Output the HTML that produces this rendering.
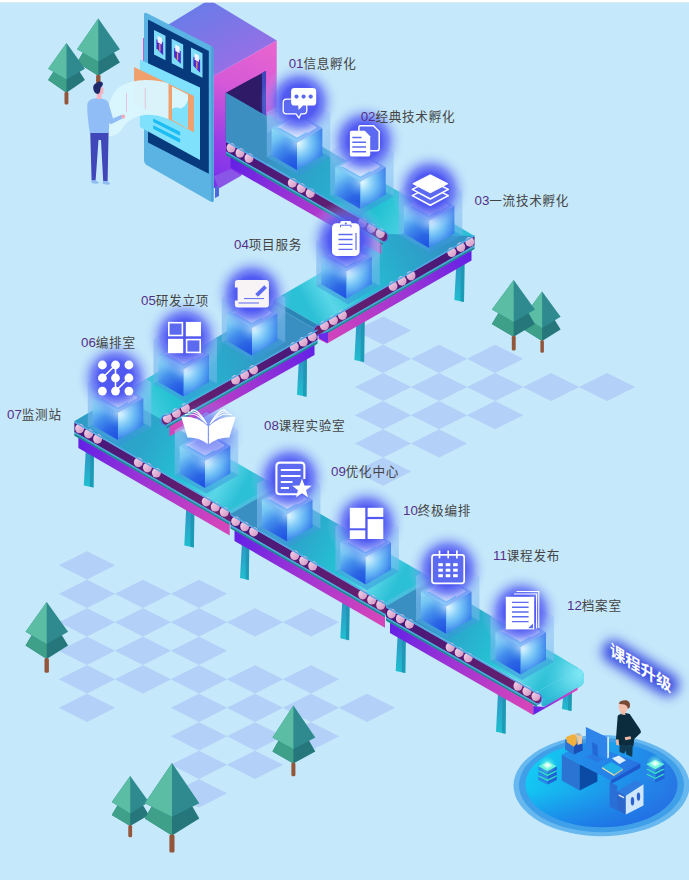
<!DOCTYPE html>
<html><head><meta charset="utf-8"><title>课程升级</title>
<style>
html,body{margin:0;padding:0;background:#c5e8fa;}
svg{display:block}
.lb{font-family:"Liberation Sans","Noto Sans CJK SC",sans-serif;font-size:13.3px;fill:#444}
.cj{font-size:12.6px;letter-spacing:0.7px}
.ttl{font-family:"Liberation Sans","Noto Sans CJK SC",sans-serif;font-size:16.5px;font-weight:bold;fill:#fdfdff}
</style></head><body>
<svg width="689" height="880" viewBox="0 0 689 880">
<defs>
<linearGradient id="g1" gradientUnits="userSpaceOnUse" x1="200.0" y1="5.0" x2="235.0" y2="75.0"><stop offset="0" stop-color="#6b7be8"/><stop offset="1" stop-color="#9a6ee6"/></linearGradient>
<linearGradient id="g2" gradientUnits="userSpaceOnUse" x1="270.0" y1="45.0" x2="215.0" y2="190.0"><stop offset="0" stop-color="#e765cf"/><stop offset="0.35" stop-color="#d458d8"/><stop offset="0.7" stop-color="#9a3de6"/><stop offset="1" stop-color="#7430ea"/></linearGradient>
<linearGradient id="g3" gradientUnits="userSpaceOnUse" x1="455.4" y1="262.0" x2="455.4" y2="302.0"><stop offset="0" stop-color="#2f93c4"/><stop offset="1" stop-color="#20bfd0"/></linearGradient>
<linearGradient id="g4" gradientUnits="userSpaceOnUse" x1="355.4" y1="322.0" x2="355.4" y2="362.0"><stop offset="0" stop-color="#2f93c4"/><stop offset="1" stop-color="#20bfd0"/></linearGradient>
<linearGradient id="g5" gradientUnits="userSpaceOnUse" x1="298.0" y1="357.0" x2="298.0" y2="396.7"><stop offset="0" stop-color="#2f93c4"/><stop offset="1" stop-color="#20bfd0"/></linearGradient>
<linearGradient id="g6" gradientUnits="userSpaceOnUse" x1="84.8" y1="450.0" x2="84.8" y2="487.5"><stop offset="0" stop-color="#2f93c4"/><stop offset="1" stop-color="#20bfd0"/></linearGradient>
<linearGradient id="g7" gradientUnits="userSpaceOnUse" x1="185.3" y1="506.0" x2="185.3" y2="547.6"><stop offset="0" stop-color="#2f93c4"/><stop offset="1" stop-color="#20bfd0"/></linearGradient>
<linearGradient id="g8" gradientUnits="userSpaceOnUse" x1="241.0" y1="542.0" x2="241.0" y2="580.0"><stop offset="0" stop-color="#2f93c4"/><stop offset="1" stop-color="#20bfd0"/></linearGradient>
<linearGradient id="g9" gradientUnits="userSpaceOnUse" x1="341.3" y1="600.0" x2="341.3" y2="640.3"><stop offset="0" stop-color="#2f93c4"/><stop offset="1" stop-color="#20bfd0"/></linearGradient>
<linearGradient id="g10" gradientUnits="userSpaceOnUse" x1="396.7" y1="634.0" x2="396.7" y2="673.0"><stop offset="0" stop-color="#2f93c4"/><stop offset="1" stop-color="#20bfd0"/></linearGradient>
<linearGradient id="g11" gradientUnits="userSpaceOnUse" x1="497.0" y1="692.0" x2="497.0" y2="733.7"><stop offset="0" stop-color="#2f93c4"/><stop offset="1" stop-color="#20bfd0"/></linearGradient>
<linearGradient id="g12" gradientUnits="userSpaceOnUse" x1="563.0" y1="686.0" x2="563.0" y2="711.0"><stop offset="0" stop-color="#2f93c4"/><stop offset="1" stop-color="#20bfd0"/></linearGradient>
<linearGradient id="g13" gradientUnits="userSpaceOnUse" x1="226.0" y1="140.0" x2="433.0" y2="260.0"><stop offset="0" stop-color="#3a8fc2"/><stop offset="0.16" stop-color="#3a8fc2"/><stop offset="0.4" stop-color="#2ba6cb"/><stop offset="0.7" stop-color="#24c2d3"/><stop offset="0.88" stop-color="#5ad6e8"/><stop offset="1" stop-color="#2cc0d6"/></linearGradient>
<linearGradient id="g14" gradientUnits="userSpaceOnUse" x1="474.5" y1="236.0" x2="319.0" y2="325.4"><stop offset="0" stop-color="#3192c6"/><stop offset="0.16" stop-color="#3192c6"/><stop offset="0.4" stop-color="#2ba6cb"/><stop offset="0.7" stop-color="#24c2d3"/><stop offset="0.88" stop-color="#5ad6e8"/><stop offset="1" stop-color="#2cc0d6"/></linearGradient>
<linearGradient id="g15" gradientUnits="userSpaceOnUse" x1="226.0" y1="140.6" x2="383.0" y2="230.6"><stop offset="0" stop-color="#43177c"/><stop offset="1" stop-color="#6a206c"/></linearGradient>
<linearGradient id="g16" gradientUnits="userSpaceOnUse" x1="226.2" y1="143.0" x2="235.8" y2="152.6"><stop offset="0" stop-color="#f6d6ea"/><stop offset="1" stop-color="#cf92c2"/></linearGradient>
<linearGradient id="g17" gradientUnits="userSpaceOnUse" x1="235.2" y1="148.1" x2="244.8" y2="157.7"><stop offset="0" stop-color="#f6d6ea"/><stop offset="1" stop-color="#cf92c2"/></linearGradient>
<linearGradient id="g18" gradientUnits="userSpaceOnUse" x1="244.2" y1="153.3" x2="253.8" y2="162.9"><stop offset="0" stop-color="#f6d6ea"/><stop offset="1" stop-color="#cf92c2"/></linearGradient>
<linearGradient id="g19" gradientUnits="userSpaceOnUse" x1="287.5" y1="178.1" x2="297.1" y2="187.7"><stop offset="0" stop-color="#f6d6ea"/><stop offset="1" stop-color="#cf92c2"/></linearGradient>
<linearGradient id="g20" gradientUnits="userSpaceOnUse" x1="296.5" y1="183.3" x2="306.1" y2="192.9"><stop offset="0" stop-color="#f6d6ea"/><stop offset="1" stop-color="#cf92c2"/></linearGradient>
<linearGradient id="g21" gradientUnits="userSpaceOnUse" x1="305.5" y1="188.4" x2="315.1" y2="198.0"><stop offset="0" stop-color="#f6d6ea"/><stop offset="1" stop-color="#cf92c2"/></linearGradient>
<linearGradient id="g22" gradientUnits="userSpaceOnUse" x1="357.5" y1="218.2" x2="367.1" y2="227.8"><stop offset="0" stop-color="#f6d6ea"/><stop offset="1" stop-color="#cf92c2"/></linearGradient>
<linearGradient id="g23" gradientUnits="userSpaceOnUse" x1="366.5" y1="223.4" x2="376.1" y2="233.0"><stop offset="0" stop-color="#f6d6ea"/><stop offset="1" stop-color="#cf92c2"/></linearGradient>
<linearGradient id="g24" gradientUnits="userSpaceOnUse" x1="375.5" y1="228.6" x2="385.1" y2="238.2"><stop offset="0" stop-color="#f6d6ea"/><stop offset="1" stop-color="#cf92c2"/></linearGradient>
<linearGradient id="g25" gradientUnits="userSpaceOnUse" x1="230.5" y1="143.2" x2="381.0" y2="229.5"><stop offset="0" stop-color="#5b1ee8"/><stop offset="0.45" stop-color="#9a32d6"/><stop offset="1" stop-color="#d444bb"/></linearGradient>
<linearGradient id="g26" gradientUnits="userSpaceOnUse" x1="266.8" y1="112.3" x2="266.8" y2="175.6"><stop offset="0" stop-color="#8fc8f8"/><stop offset="1" stop-color="#3a96e0"/></linearGradient>
<radialGradient id="g27" gradientUnits="userSpaceOnUse" cx="296.0" cy="171.1" r="47.0"><stop offset="0" stop-color="#1444e0"/><stop offset="0.32" stop-color="#2560e4"/><stop offset="0.56" stop-color="#3f8aec"/><stop offset="0.8" stop-color="#70c4f4"/><stop offset="1" stop-color="#8cdaf6"/></radialGradient>
<radialGradient id="g28" gradientUnits="userSpaceOnUse" cx="298.0" cy="143.5" r="40.0"><stop offset="0" stop-color="#d0f0ff"/><stop offset="0.16" stop-color="#a8e0fc"/><stop offset="0.38" stop-color="#6cbcf6"/><stop offset="0.62" stop-color="#3d86ec"/><stop offset="0.85" stop-color="#2058e2"/><stop offset="1" stop-color="#1c4ee0"/></radialGradient>
<radialGradient id="g29" gradientUnits="userSpaceOnUse" cx="298.0" cy="143.0" r="15.0"><stop offset="0" stop-color="#ffffff" stop-opacity="0.6"/><stop offset="0.35" stop-color="#d8f4ff" stop-opacity="0.32"/><stop offset="0.7" stop-color="#a0dcfa" stop-opacity="0.12"/><stop offset="1" stop-color="#80c8f8" stop-opacity="0"/></radialGradient>
<linearGradient id="g30" gradientUnits="userSpaceOnUse" x1="271.7" y1="127.9" x2="322.3" y2="127.9"><stop offset="0" stop-color="#7ccaf8"/><stop offset="0.5" stop-color="#9cc8fa"/><stop offset="1" stop-color="#6a9ef4"/></linearGradient>
<linearGradient id="g31" gradientUnits="userSpaceOnUse" x1="297.0" y1="116.9" x2="297.0" y2="137.9"><stop offset="0" stop-color="#a9bcf8"/><stop offset="0.5" stop-color="#d4e2fd"/><stop offset="1" stop-color="#f6faff"/></linearGradient>
<radialGradient id="g32" gradientUnits="userSpaceOnUse" cx="299.5" cy="102.0" r="40.0"><stop offset="0" stop-color="#4e56f0" stop-opacity="1"/><stop offset="0.42" stop-color="#4e56f2" stop-opacity="0.97"/><stop offset="0.6" stop-color="#5e6af4" stop-opacity="0.72"/><stop offset="0.76" stop-color="#7e94f6" stop-opacity="0.36"/><stop offset="0.9" stop-color="#a0baf8" stop-opacity="0.12"/><stop offset="1" stop-color="#b4d0fa" stop-opacity="0"/></radialGradient>
<linearGradient id="g33" gradientUnits="userSpaceOnUse" x1="330.2" y1="151.3" x2="330.2" y2="214.6"><stop offset="0" stop-color="#8fc8f8"/><stop offset="1" stop-color="#3a96e0"/></linearGradient>
<radialGradient id="g34" gradientUnits="userSpaceOnUse" cx="359.4" cy="210.1" r="47.0"><stop offset="0" stop-color="#1444e0"/><stop offset="0.32" stop-color="#2560e4"/><stop offset="0.56" stop-color="#3f8aec"/><stop offset="0.8" stop-color="#70c4f4"/><stop offset="1" stop-color="#8cdaf6"/></radialGradient>
<radialGradient id="g35" gradientUnits="userSpaceOnUse" cx="361.4" cy="182.5" r="40.0"><stop offset="0" stop-color="#d0f0ff"/><stop offset="0.16" stop-color="#a8e0fc"/><stop offset="0.38" stop-color="#6cbcf6"/><stop offset="0.62" stop-color="#3d86ec"/><stop offset="0.85" stop-color="#2058e2"/><stop offset="1" stop-color="#1c4ee0"/></radialGradient>
<radialGradient id="g36" gradientUnits="userSpaceOnUse" cx="361.4" cy="182.0" r="15.0"><stop offset="0" stop-color="#ffffff" stop-opacity="0.6"/><stop offset="0.35" stop-color="#d8f4ff" stop-opacity="0.32"/><stop offset="0.7" stop-color="#a0dcfa" stop-opacity="0.12"/><stop offset="1" stop-color="#80c8f8" stop-opacity="0"/></radialGradient>
<linearGradient id="g37" gradientUnits="userSpaceOnUse" x1="335.1" y1="166.9" x2="385.7" y2="166.9"><stop offset="0" stop-color="#7ccaf8"/><stop offset="0.5" stop-color="#9cc8fa"/><stop offset="1" stop-color="#6a9ef4"/></linearGradient>
<linearGradient id="g38" gradientUnits="userSpaceOnUse" x1="360.4" y1="155.9" x2="360.4" y2="176.9"><stop offset="0" stop-color="#a9bcf8"/><stop offset="0.5" stop-color="#d4e2fd"/><stop offset="1" stop-color="#f6faff"/></linearGradient>
<radialGradient id="g39" gradientUnits="userSpaceOnUse" cx="364.5" cy="141.0" r="40.0"><stop offset="0" stop-color="#4e56f0" stop-opacity="1"/><stop offset="0.42" stop-color="#4e56f2" stop-opacity="0.97"/><stop offset="0.6" stop-color="#5e6af4" stop-opacity="0.72"/><stop offset="0.76" stop-color="#7e94f6" stop-opacity="0.36"/><stop offset="0.9" stop-color="#a0baf8" stop-opacity="0.12"/><stop offset="1" stop-color="#b4d0fa" stop-opacity="0"/></radialGradient>
<linearGradient id="g40" gradientUnits="userSpaceOnUse" x1="317.5" y1="330.4" x2="117.4" y2="443.5"><stop offset="0" stop-color="#3a8fc2"/><stop offset="0.16" stop-color="#3a8fc2"/><stop offset="0.4" stop-color="#2ba6cb"/><stop offset="0.7" stop-color="#24c2d3"/><stop offset="0.88" stop-color="#5ad6e8"/><stop offset="1" stop-color="#2cc0d6"/></linearGradient>
<linearGradient id="g41" gradientUnits="userSpaceOnUse" x1="74.4" y1="421.2" x2="229.7" y2="510.8"><stop offset="0" stop-color="#2f9cc8"/><stop offset="0.16" stop-color="#2f9cc8"/><stop offset="0.4" stop-color="#2ba6cb"/><stop offset="0.7" stop-color="#24c4d4"/><stop offset="0.88" stop-color="#5ad6e8"/><stop offset="1" stop-color="#2cc0d6"/></linearGradient>
<linearGradient id="g42" gradientUnits="userSpaceOnUse" x1="398.9" y1="190.2" x2="398.9" y2="253.5"><stop offset="0" stop-color="#8fc8f8"/><stop offset="1" stop-color="#3a96e0"/></linearGradient>
<radialGradient id="g43" gradientUnits="userSpaceOnUse" cx="428.1" cy="249.0" r="47.0"><stop offset="0" stop-color="#1444e0"/><stop offset="0.32" stop-color="#2560e4"/><stop offset="0.56" stop-color="#3f8aec"/><stop offset="0.8" stop-color="#70c4f4"/><stop offset="1" stop-color="#8cdaf6"/></radialGradient>
<radialGradient id="g44" gradientUnits="userSpaceOnUse" cx="430.1" cy="221.4" r="40.0"><stop offset="0" stop-color="#d0f0ff"/><stop offset="0.16" stop-color="#a8e0fc"/><stop offset="0.38" stop-color="#6cbcf6"/><stop offset="0.62" stop-color="#3d86ec"/><stop offset="0.85" stop-color="#2058e2"/><stop offset="1" stop-color="#1c4ee0"/></radialGradient>
<radialGradient id="g45" gradientUnits="userSpaceOnUse" cx="430.1" cy="220.9" r="15.0"><stop offset="0" stop-color="#ffffff" stop-opacity="0.6"/><stop offset="0.35" stop-color="#d8f4ff" stop-opacity="0.32"/><stop offset="0.7" stop-color="#a0dcfa" stop-opacity="0.12"/><stop offset="1" stop-color="#80c8f8" stop-opacity="0"/></radialGradient>
<linearGradient id="g46" gradientUnits="userSpaceOnUse" x1="403.8" y1="205.8" x2="454.4" y2="205.8"><stop offset="0" stop-color="#7ccaf8"/><stop offset="0.5" stop-color="#9cc8fa"/><stop offset="1" stop-color="#6a9ef4"/></linearGradient>
<linearGradient id="g47" gradientUnits="userSpaceOnUse" x1="429.1" y1="194.8" x2="429.1" y2="215.8"><stop offset="0" stop-color="#a9bcf8"/><stop offset="0.5" stop-color="#d4e2fd"/><stop offset="1" stop-color="#f6faff"/></linearGradient>
<radialGradient id="g48" gradientUnits="userSpaceOnUse" cx="430.3" cy="190.0" r="40.0"><stop offset="0" stop-color="#4e56f0" stop-opacity="1"/><stop offset="0.42" stop-color="#4e56f2" stop-opacity="0.97"/><stop offset="0.6" stop-color="#5e6af4" stop-opacity="0.72"/><stop offset="0.76" stop-color="#7e94f6" stop-opacity="0.36"/><stop offset="0.9" stop-color="#a0baf8" stop-opacity="0.12"/><stop offset="1" stop-color="#b4d0fa" stop-opacity="0"/></radialGradient>
<linearGradient id="g49" gradientUnits="userSpaceOnUse" x1="474.5" y1="235.0" x2="319.0" y2="324.4"><stop offset="0" stop-color="#43177c"/><stop offset="1" stop-color="#6a206c"/></linearGradient>
<linearGradient id="g50" gradientUnits="userSpaceOnUse" x1="465.0" y1="237.1" x2="474.6" y2="246.7"><stop offset="0" stop-color="#f6d6ea"/><stop offset="1" stop-color="#cf92c2"/></linearGradient>
<linearGradient id="g51" gradientUnits="userSpaceOnUse" x1="456.0" y1="242.3" x2="465.6" y2="251.9"><stop offset="0" stop-color="#f6d6ea"/><stop offset="1" stop-color="#cf92c2"/></linearGradient>
<linearGradient id="g52" gradientUnits="userSpaceOnUse" x1="447.0" y1="247.5" x2="456.6" y2="257.1"><stop offset="0" stop-color="#f6d6ea"/><stop offset="1" stop-color="#cf92c2"/></linearGradient>
<linearGradient id="g53" gradientUnits="userSpaceOnUse" x1="406.2" y1="270.9" x2="415.8" y2="280.5"><stop offset="0" stop-color="#f6d6ea"/><stop offset="1" stop-color="#cf92c2"/></linearGradient>
<linearGradient id="g54" gradientUnits="userSpaceOnUse" x1="397.2" y1="276.1" x2="406.8" y2="285.7"><stop offset="0" stop-color="#f6d6ea"/><stop offset="1" stop-color="#cf92c2"/></linearGradient>
<linearGradient id="g55" gradientUnits="userSpaceOnUse" x1="388.2" y1="281.3" x2="397.8" y2="290.9"><stop offset="0" stop-color="#f6d6ea"/><stop offset="1" stop-color="#cf92c2"/></linearGradient>
<linearGradient id="g56" gradientUnits="userSpaceOnUse" x1="337.6" y1="310.3" x2="347.2" y2="319.9"><stop offset="0" stop-color="#f6d6ea"/><stop offset="1" stop-color="#cf92c2"/></linearGradient>
<linearGradient id="g57" gradientUnits="userSpaceOnUse" x1="328.6" y1="315.5" x2="338.2" y2="325.1"><stop offset="0" stop-color="#f6d6ea"/><stop offset="1" stop-color="#cf92c2"/></linearGradient>
<linearGradient id="g58" gradientUnits="userSpaceOnUse" x1="319.6" y1="320.7" x2="329.2" y2="330.3"><stop offset="0" stop-color="#f6d6ea"/><stop offset="1" stop-color="#cf92c2"/></linearGradient>
<linearGradient id="g59" gradientUnits="userSpaceOnUse" x1="471.5" y1="236.7" x2="318.0" y2="325.0"><stop offset="0" stop-color="#5b1ee8"/><stop offset="0.45" stop-color="#9a32d6"/><stop offset="1" stop-color="#d444bb"/></linearGradient>
<linearGradient id="g60" gradientUnits="userSpaceOnUse" x1="317.5" y1="329.6" x2="166.5" y2="414.5"><stop offset="0" stop-color="#43177c"/><stop offset="1" stop-color="#6a206c"/></linearGradient>
<linearGradient id="g61" gradientUnits="userSpaceOnUse" x1="307.5" y1="331.9" x2="317.1" y2="341.5"><stop offset="0" stop-color="#f6d6ea"/><stop offset="1" stop-color="#cf92c2"/></linearGradient>
<linearGradient id="g62" gradientUnits="userSpaceOnUse" x1="298.5" y1="337.0" x2="308.1" y2="346.6"><stop offset="0" stop-color="#f6d6ea"/><stop offset="1" stop-color="#cf92c2"/></linearGradient>
<linearGradient id="g63" gradientUnits="userSpaceOnUse" x1="289.5" y1="342.0" x2="299.1" y2="351.6"><stop offset="0" stop-color="#f6d6ea"/><stop offset="1" stop-color="#cf92c2"/></linearGradient>
<linearGradient id="g64" gradientUnits="userSpaceOnUse" x1="248.8" y1="364.9" x2="258.4" y2="374.5"><stop offset="0" stop-color="#f6d6ea"/><stop offset="1" stop-color="#cf92c2"/></linearGradient>
<linearGradient id="g65" gradientUnits="userSpaceOnUse" x1="239.8" y1="370.0" x2="249.4" y2="379.6"><stop offset="0" stop-color="#f6d6ea"/><stop offset="1" stop-color="#cf92c2"/></linearGradient>
<linearGradient id="g66" gradientUnits="userSpaceOnUse" x1="230.8" y1="375.0" x2="240.4" y2="384.6"><stop offset="0" stop-color="#f6d6ea"/><stop offset="1" stop-color="#cf92c2"/></linearGradient>
<linearGradient id="g67" gradientUnits="userSpaceOnUse" x1="180.6" y1="403.3" x2="190.2" y2="412.9"><stop offset="0" stop-color="#f6d6ea"/><stop offset="1" stop-color="#cf92c2"/></linearGradient>
<linearGradient id="g68" gradientUnits="userSpaceOnUse" x1="171.6" y1="408.3" x2="181.2" y2="417.9"><stop offset="0" stop-color="#f6d6ea"/><stop offset="1" stop-color="#cf92c2"/></linearGradient>
<linearGradient id="g69" gradientUnits="userSpaceOnUse" x1="162.6" y1="413.4" x2="172.2" y2="423.0"><stop offset="0" stop-color="#f6d6ea"/><stop offset="1" stop-color="#cf92c2"/></linearGradient>
<linearGradient id="g70" gradientUnits="userSpaceOnUse" x1="314.5" y1="331.3" x2="169.5" y2="412.8"><stop offset="0" stop-color="#5b1ee8"/><stop offset="0.45" stop-color="#9a32d6"/><stop offset="1" stop-color="#d444bb"/></linearGradient>
<linearGradient id="g71" gradientUnits="userSpaceOnUse" x1="316.3" y1="240.9" x2="316.3" y2="304.2"><stop offset="0" stop-color="#8fc8f8"/><stop offset="1" stop-color="#3a96e0"/></linearGradient>
<radialGradient id="g72" gradientUnits="userSpaceOnUse" cx="345.5" cy="299.7" r="47.0"><stop offset="0" stop-color="#1444e0"/><stop offset="0.32" stop-color="#2560e4"/><stop offset="0.56" stop-color="#3f8aec"/><stop offset="0.8" stop-color="#70c4f4"/><stop offset="1" stop-color="#8cdaf6"/></radialGradient>
<radialGradient id="g73" gradientUnits="userSpaceOnUse" cx="347.5" cy="272.1" r="40.0"><stop offset="0" stop-color="#d0f0ff"/><stop offset="0.16" stop-color="#a8e0fc"/><stop offset="0.38" stop-color="#6cbcf6"/><stop offset="0.62" stop-color="#3d86ec"/><stop offset="0.85" stop-color="#2058e2"/><stop offset="1" stop-color="#1c4ee0"/></radialGradient>
<radialGradient id="g74" gradientUnits="userSpaceOnUse" cx="347.5" cy="271.6" r="15.0"><stop offset="0" stop-color="#ffffff" stop-opacity="0.6"/><stop offset="0.35" stop-color="#d8f4ff" stop-opacity="0.32"/><stop offset="0.7" stop-color="#a0dcfa" stop-opacity="0.12"/><stop offset="1" stop-color="#80c8f8" stop-opacity="0"/></radialGradient>
<linearGradient id="g75" gradientUnits="userSpaceOnUse" x1="321.2" y1="256.5" x2="371.8" y2="256.5"><stop offset="0" stop-color="#7ccaf8"/><stop offset="0.5" stop-color="#9cc8fa"/><stop offset="1" stop-color="#6a9ef4"/></linearGradient>
<linearGradient id="g76" gradientUnits="userSpaceOnUse" x1="346.5" y1="245.5" x2="346.5" y2="266.5"><stop offset="0" stop-color="#a9bcf8"/><stop offset="0.5" stop-color="#d4e2fd"/><stop offset="1" stop-color="#f6faff"/></linearGradient>
<radialGradient id="g77" gradientUnits="userSpaceOnUse" cx="345.8" cy="240.0" r="40.0"><stop offset="0" stop-color="#4e56f0" stop-opacity="1"/><stop offset="0.42" stop-color="#4e56f2" stop-opacity="0.97"/><stop offset="0.6" stop-color="#5e6af4" stop-opacity="0.72"/><stop offset="0.76" stop-color="#7e94f6" stop-opacity="0.36"/><stop offset="0.9" stop-color="#a0baf8" stop-opacity="0.12"/><stop offset="1" stop-color="#b4d0fa" stop-opacity="0"/></radialGradient>
<linearGradient id="g78" gradientUnits="userSpaceOnUse" x1="221.8" y1="297.6" x2="221.8" y2="360.9"><stop offset="0" stop-color="#8fc8f8"/><stop offset="1" stop-color="#3a96e0"/></linearGradient>
<radialGradient id="g79" gradientUnits="userSpaceOnUse" cx="251.0" cy="356.4" r="47.0"><stop offset="0" stop-color="#1444e0"/><stop offset="0.32" stop-color="#2560e4"/><stop offset="0.56" stop-color="#3f8aec"/><stop offset="0.8" stop-color="#70c4f4"/><stop offset="1" stop-color="#8cdaf6"/></radialGradient>
<radialGradient id="g80" gradientUnits="userSpaceOnUse" cx="253.0" cy="328.8" r="40.0"><stop offset="0" stop-color="#d0f0ff"/><stop offset="0.16" stop-color="#a8e0fc"/><stop offset="0.38" stop-color="#6cbcf6"/><stop offset="0.62" stop-color="#3d86ec"/><stop offset="0.85" stop-color="#2058e2"/><stop offset="1" stop-color="#1c4ee0"/></radialGradient>
<radialGradient id="g81" gradientUnits="userSpaceOnUse" cx="253.0" cy="328.3" r="15.0"><stop offset="0" stop-color="#ffffff" stop-opacity="0.6"/><stop offset="0.35" stop-color="#d8f4ff" stop-opacity="0.32"/><stop offset="0.7" stop-color="#a0dcfa" stop-opacity="0.12"/><stop offset="1" stop-color="#80c8f8" stop-opacity="0"/></radialGradient>
<linearGradient id="g82" gradientUnits="userSpaceOnUse" x1="226.7" y1="313.2" x2="277.3" y2="313.2"><stop offset="0" stop-color="#7ccaf8"/><stop offset="0.5" stop-color="#9cc8fa"/><stop offset="1" stop-color="#6a9ef4"/></linearGradient>
<linearGradient id="g83" gradientUnits="userSpaceOnUse" x1="252.0" y1="302.2" x2="252.0" y2="323.2"><stop offset="0" stop-color="#a9bcf8"/><stop offset="0.5" stop-color="#d4e2fd"/><stop offset="1" stop-color="#f6faff"/></linearGradient>
<radialGradient id="g84" gradientUnits="userSpaceOnUse" cx="252.0" cy="294.0" r="40.0"><stop offset="0" stop-color="#4e56f0" stop-opacity="1"/><stop offset="0.42" stop-color="#4e56f2" stop-opacity="0.97"/><stop offset="0.6" stop-color="#5e6af4" stop-opacity="0.72"/><stop offset="0.76" stop-color="#7e94f6" stop-opacity="0.36"/><stop offset="0.9" stop-color="#a0baf8" stop-opacity="0.12"/><stop offset="1" stop-color="#b4d0fa" stop-opacity="0"/></radialGradient>
<linearGradient id="g85" gradientUnits="userSpaceOnUse" x1="153.5" y1="338.7" x2="153.5" y2="402.0"><stop offset="0" stop-color="#8fc8f8"/><stop offset="1" stop-color="#3a96e0"/></linearGradient>
<radialGradient id="g86" gradientUnits="userSpaceOnUse" cx="182.7" cy="397.5" r="47.0"><stop offset="0" stop-color="#1444e0"/><stop offset="0.32" stop-color="#2560e4"/><stop offset="0.56" stop-color="#3f8aec"/><stop offset="0.8" stop-color="#70c4f4"/><stop offset="1" stop-color="#8cdaf6"/></radialGradient>
<radialGradient id="g87" gradientUnits="userSpaceOnUse" cx="184.7" cy="369.9" r="40.0"><stop offset="0" stop-color="#d0f0ff"/><stop offset="0.16" stop-color="#a8e0fc"/><stop offset="0.38" stop-color="#6cbcf6"/><stop offset="0.62" stop-color="#3d86ec"/><stop offset="0.85" stop-color="#2058e2"/><stop offset="1" stop-color="#1c4ee0"/></radialGradient>
<radialGradient id="g88" gradientUnits="userSpaceOnUse" cx="184.7" cy="369.4" r="15.0"><stop offset="0" stop-color="#ffffff" stop-opacity="0.6"/><stop offset="0.35" stop-color="#d8f4ff" stop-opacity="0.32"/><stop offset="0.7" stop-color="#a0dcfa" stop-opacity="0.12"/><stop offset="1" stop-color="#80c8f8" stop-opacity="0"/></radialGradient>
<linearGradient id="g89" gradientUnits="userSpaceOnUse" x1="158.4" y1="354.3" x2="209.0" y2="354.3"><stop offset="0" stop-color="#7ccaf8"/><stop offset="0.5" stop-color="#9cc8fa"/><stop offset="1" stop-color="#6a9ef4"/></linearGradient>
<linearGradient id="g90" gradientUnits="userSpaceOnUse" x1="183.7" y1="343.3" x2="183.7" y2="364.3"><stop offset="0" stop-color="#a9bcf8"/><stop offset="0.5" stop-color="#d4e2fd"/><stop offset="1" stop-color="#f6faff"/></linearGradient>
<radialGradient id="g91" gradientUnits="userSpaceOnUse" cx="184.5" cy="337.0" r="40.0"><stop offset="0" stop-color="#4e56f0" stop-opacity="1"/><stop offset="0.42" stop-color="#4e56f2" stop-opacity="0.97"/><stop offset="0.6" stop-color="#5e6af4" stop-opacity="0.72"/><stop offset="0.76" stop-color="#7e94f6" stop-opacity="0.36"/><stop offset="0.9" stop-color="#a0baf8" stop-opacity="0.12"/><stop offset="1" stop-color="#b4d0fa" stop-opacity="0"/></radialGradient>
<linearGradient id="g92" gradientUnits="userSpaceOnUse" x1="87.8" y1="382.3" x2="87.8" y2="445.6"><stop offset="0" stop-color="#8fc8f8"/><stop offset="1" stop-color="#3a96e0"/></linearGradient>
<radialGradient id="g93" gradientUnits="userSpaceOnUse" cx="117.0" cy="441.1" r="47.0"><stop offset="0" stop-color="#1444e0"/><stop offset="0.32" stop-color="#2560e4"/><stop offset="0.56" stop-color="#3f8aec"/><stop offset="0.8" stop-color="#70c4f4"/><stop offset="1" stop-color="#8cdaf6"/></radialGradient>
<radialGradient id="g94" gradientUnits="userSpaceOnUse" cx="119.0" cy="413.5" r="40.0"><stop offset="0" stop-color="#d0f0ff"/><stop offset="0.16" stop-color="#a8e0fc"/><stop offset="0.38" stop-color="#6cbcf6"/><stop offset="0.62" stop-color="#3d86ec"/><stop offset="0.85" stop-color="#2058e2"/><stop offset="1" stop-color="#1c4ee0"/></radialGradient>
<radialGradient id="g95" gradientUnits="userSpaceOnUse" cx="119.0" cy="413.0" r="15.0"><stop offset="0" stop-color="#ffffff" stop-opacity="0.6"/><stop offset="0.35" stop-color="#d8f4ff" stop-opacity="0.32"/><stop offset="0.7" stop-color="#a0dcfa" stop-opacity="0.12"/><stop offset="1" stop-color="#80c8f8" stop-opacity="0"/></radialGradient>
<linearGradient id="g96" gradientUnits="userSpaceOnUse" x1="92.7" y1="397.9" x2="143.3" y2="397.9"><stop offset="0" stop-color="#7ccaf8"/><stop offset="0.5" stop-color="#9cc8fa"/><stop offset="1" stop-color="#6a9ef4"/></linearGradient>
<linearGradient id="g97" gradientUnits="userSpaceOnUse" x1="118.0" y1="386.9" x2="118.0" y2="407.9"><stop offset="0" stop-color="#a9bcf8"/><stop offset="0.5" stop-color="#d4e2fd"/><stop offset="1" stop-color="#f6faff"/></linearGradient>
<radialGradient id="g98" gradientUnits="userSpaceOnUse" cx="115.6" cy="378.0" r="40.0"><stop offset="0" stop-color="#4e56f0" stop-opacity="1"/><stop offset="0.42" stop-color="#4e56f2" stop-opacity="0.97"/><stop offset="0.6" stop-color="#5e6af4" stop-opacity="0.72"/><stop offset="0.76" stop-color="#7e94f6" stop-opacity="0.36"/><stop offset="0.9" stop-color="#a0baf8" stop-opacity="0.12"/><stop offset="1" stop-color="#b4d0fa" stop-opacity="0"/></radialGradient>
<linearGradient id="g99" gradientUnits="userSpaceOnUse" x1="74.4" y1="421.2" x2="229.7" y2="510.8"><stop offset="0" stop-color="#43177c"/><stop offset="1" stop-color="#6a206c"/></linearGradient>
<linearGradient id="g100" gradientUnits="userSpaceOnUse" x1="74.8" y1="423.7" x2="84.4" y2="433.3"><stop offset="0" stop-color="#f6d6ea"/><stop offset="1" stop-color="#cf92c2"/></linearGradient>
<linearGradient id="g101" gradientUnits="userSpaceOnUse" x1="83.8" y1="428.9" x2="93.4" y2="438.5"><stop offset="0" stop-color="#f6d6ea"/><stop offset="1" stop-color="#cf92c2"/></linearGradient>
<linearGradient id="g102" gradientUnits="userSpaceOnUse" x1="92.8" y1="434.1" x2="102.4" y2="443.7"><stop offset="0" stop-color="#f6d6ea"/><stop offset="1" stop-color="#cf92c2"/></linearGradient>
<linearGradient id="g103" gradientUnits="userSpaceOnUse" x1="133.6" y1="457.6" x2="143.2" y2="467.2"><stop offset="0" stop-color="#f6d6ea"/><stop offset="1" stop-color="#cf92c2"/></linearGradient>
<linearGradient id="g104" gradientUnits="userSpaceOnUse" x1="142.6" y1="462.8" x2="152.2" y2="472.4"><stop offset="0" stop-color="#f6d6ea"/><stop offset="1" stop-color="#cf92c2"/></linearGradient>
<linearGradient id="g105" gradientUnits="userSpaceOnUse" x1="151.6" y1="468.0" x2="161.2" y2="477.6"><stop offset="0" stop-color="#f6d6ea"/><stop offset="1" stop-color="#cf92c2"/></linearGradient>
<linearGradient id="g106" gradientUnits="userSpaceOnUse" x1="201.5" y1="496.8" x2="211.1" y2="506.4"><stop offset="0" stop-color="#f6d6ea"/><stop offset="1" stop-color="#cf92c2"/></linearGradient>
<linearGradient id="g107" gradientUnits="userSpaceOnUse" x1="210.5" y1="502.0" x2="220.1" y2="511.6"><stop offset="0" stop-color="#f6d6ea"/><stop offset="1" stop-color="#cf92c2"/></linearGradient>
<linearGradient id="g108" gradientUnits="userSpaceOnUse" x1="219.5" y1="507.2" x2="229.1" y2="516.8"><stop offset="0" stop-color="#f6d6ea"/><stop offset="1" stop-color="#cf92c2"/></linearGradient>
<linearGradient id="g109" gradientUnits="userSpaceOnUse" x1="78.4" y1="423.5" x2="229.7" y2="510.8"><stop offset="0" stop-color="#5b1ee8"/><stop offset="0.45" stop-color="#9a32d6"/><stop offset="1" stop-color="#d444bb"/></linearGradient>
<linearGradient id="g110" gradientUnits="userSpaceOnUse" x1="230.5" y1="514.0" x2="385.0" y2="603.2"><stop offset="0" stop-color="#3a8fc2"/><stop offset="0.16" stop-color="#3a8fc2"/><stop offset="0.4" stop-color="#2ba6cb"/><stop offset="0.7" stop-color="#24c4d4"/><stop offset="0.88" stop-color="#5ad6e8"/><stop offset="1" stop-color="#2cc0d6"/></linearGradient>
<linearGradient id="g111" gradientUnits="userSpaceOnUse" x1="230.5" y1="514.0" x2="385.0" y2="603.2"><stop offset="0" stop-color="#43177c"/><stop offset="1" stop-color="#6a206c"/></linearGradient>
<linearGradient id="g112" gradientUnits="userSpaceOnUse" x1="230.9" y1="516.5" x2="240.5" y2="526.1"><stop offset="0" stop-color="#f6d6ea"/><stop offset="1" stop-color="#cf92c2"/></linearGradient>
<linearGradient id="g113" gradientUnits="userSpaceOnUse" x1="239.9" y1="521.7" x2="249.5" y2="531.3"><stop offset="0" stop-color="#f6d6ea"/><stop offset="1" stop-color="#cf92c2"/></linearGradient>
<linearGradient id="g114" gradientUnits="userSpaceOnUse" x1="248.9" y1="526.9" x2="258.5" y2="536.5"><stop offset="0" stop-color="#f6d6ea"/><stop offset="1" stop-color="#cf92c2"/></linearGradient>
<linearGradient id="g115" gradientUnits="userSpaceOnUse" x1="289.9" y1="550.6" x2="299.5" y2="560.2"><stop offset="0" stop-color="#f6d6ea"/><stop offset="1" stop-color="#cf92c2"/></linearGradient>
<linearGradient id="g116" gradientUnits="userSpaceOnUse" x1="298.9" y1="555.8" x2="308.5" y2="565.4"><stop offset="0" stop-color="#f6d6ea"/><stop offset="1" stop-color="#cf92c2"/></linearGradient>
<linearGradient id="g117" gradientUnits="userSpaceOnUse" x1="307.9" y1="561.0" x2="317.5" y2="570.6"><stop offset="0" stop-color="#f6d6ea"/><stop offset="1" stop-color="#cf92c2"/></linearGradient>
<linearGradient id="g118" gradientUnits="userSpaceOnUse" x1="357.9" y1="589.8" x2="367.5" y2="599.4"><stop offset="0" stop-color="#f6d6ea"/><stop offset="1" stop-color="#cf92c2"/></linearGradient>
<linearGradient id="g119" gradientUnits="userSpaceOnUse" x1="366.9" y1="595.0" x2="376.5" y2="604.6"><stop offset="0" stop-color="#f6d6ea"/><stop offset="1" stop-color="#cf92c2"/></linearGradient>
<linearGradient id="g120" gradientUnits="userSpaceOnUse" x1="375.9" y1="600.2" x2="385.5" y2="609.8"><stop offset="0" stop-color="#f6d6ea"/><stop offset="1" stop-color="#cf92c2"/></linearGradient>
<linearGradient id="g121" gradientUnits="userSpaceOnUse" x1="234.5" y1="516.3" x2="385.0" y2="603.2"><stop offset="0" stop-color="#5b1ee8"/><stop offset="0.45" stop-color="#9a32d6"/><stop offset="1" stop-color="#d444bb"/></linearGradient>
<linearGradient id="g122" gradientUnits="userSpaceOnUse" x1="386.0" y1="606.2" x2="537.5" y2="692.0"><stop offset="0" stop-color="#3a8fc2"/><stop offset="0.16" stop-color="#3a8fc2"/><stop offset="0.4" stop-color="#2ba6cb"/><stop offset="0.7" stop-color="#24c4d4"/><stop offset="0.88" stop-color="#5ad6e8"/><stop offset="1" stop-color="#2cc0d6"/></linearGradient>
<linearGradient id="g123" gradientUnits="userSpaceOnUse" x1="545.0" y1="700.0" x2="580.0" y2="672.0"><stop offset="0" stop-color="#2cbcd6"/><stop offset="0.5" stop-color="#34c4da"/><stop offset="1" stop-color="#3ccade"/></linearGradient>
<linearGradient id="g124" gradientUnits="userSpaceOnUse" x1="545.0" y1="694.0" x2="550.0" y2="706.0"><stop offset="0" stop-color="#3cc4de" stop-opacity="0"/><stop offset="1" stop-color="#2590c8" stop-opacity="0.55"/></linearGradient>
<radialGradient id="g125" gradientUnits="userSpaceOnUse" cx="580.0" cy="674.0" r="42.0"><stop offset="0" stop-color="#80e8f6" stop-opacity="1"/><stop offset="0.35" stop-color="#6cdcee" stop-opacity="0.8"/><stop offset="1" stop-color="#40c8de" stop-opacity="0"/></radialGradient>
<linearGradient id="g126" gradientUnits="userSpaceOnUse" x1="533.0" y1="710.0" x2="578.0" y2="688.0"><stop offset="0" stop-color="#5a24ea"/><stop offset="0.5" stop-color="#a838d4"/><stop offset="1" stop-color="#dc48bc"/></linearGradient>
<linearGradient id="g127" gradientUnits="userSpaceOnUse" x1="386.0" y1="606.2" x2="537.0" y2="692.6"><stop offset="0" stop-color="#43177c"/><stop offset="1" stop-color="#6a206c"/></linearGradient>
<linearGradient id="g128" gradientUnits="userSpaceOnUse" x1="386.6" y1="608.8" x2="396.2" y2="618.4"><stop offset="0" stop-color="#f6d6ea"/><stop offset="1" stop-color="#cf92c2"/></linearGradient>
<linearGradient id="g129" gradientUnits="userSpaceOnUse" x1="395.6" y1="613.9" x2="405.2" y2="623.5"><stop offset="0" stop-color="#f6d6ea"/><stop offset="1" stop-color="#cf92c2"/></linearGradient>
<linearGradient id="g130" gradientUnits="userSpaceOnUse" x1="404.6" y1="619.1" x2="414.2" y2="628.7"><stop offset="0" stop-color="#f6d6ea"/><stop offset="1" stop-color="#cf92c2"/></linearGradient>
<linearGradient id="g131" gradientUnits="userSpaceOnUse" x1="445.4" y1="642.4" x2="455.0" y2="652.0"><stop offset="0" stop-color="#f6d6ea"/><stop offset="1" stop-color="#cf92c2"/></linearGradient>
<linearGradient id="g132" gradientUnits="userSpaceOnUse" x1="454.4" y1="647.6" x2="464.0" y2="657.2"><stop offset="0" stop-color="#f6d6ea"/><stop offset="1" stop-color="#cf92c2"/></linearGradient>
<linearGradient id="g133" gradientUnits="userSpaceOnUse" x1="463.4" y1="652.7" x2="473.0" y2="662.3"><stop offset="0" stop-color="#f6d6ea"/><stop offset="1" stop-color="#cf92c2"/></linearGradient>
<linearGradient id="g134" gradientUnits="userSpaceOnUse" x1="513.2" y1="681.2" x2="522.8" y2="690.8"><stop offset="0" stop-color="#f6d6ea"/><stop offset="1" stop-color="#cf92c2"/></linearGradient>
<linearGradient id="g135" gradientUnits="userSpaceOnUse" x1="522.2" y1="686.4" x2="531.8" y2="696.0"><stop offset="0" stop-color="#f6d6ea"/><stop offset="1" stop-color="#cf92c2"/></linearGradient>
<linearGradient id="g136" gradientUnits="userSpaceOnUse" x1="531.2" y1="691.5" x2="540.8" y2="701.1"><stop offset="0" stop-color="#f6d6ea"/><stop offset="1" stop-color="#cf92c2"/></linearGradient>
<linearGradient id="g137" gradientUnits="userSpaceOnUse" x1="390.0" y1="608.5" x2="533.2" y2="690.4"><stop offset="0" stop-color="#5b1ee8"/><stop offset="0.45" stop-color="#9a32d6"/><stop offset="1" stop-color="#d444bb"/></linearGradient>
<linearGradient id="g138" gradientUnits="userSpaceOnUse" x1="174.8" y1="430.2" x2="174.8" y2="493.5"><stop offset="0" stop-color="#8fc8f8"/><stop offset="1" stop-color="#3a96e0"/></linearGradient>
<radialGradient id="g139" gradientUnits="userSpaceOnUse" cx="204.0" cy="489.0" r="47.0"><stop offset="0" stop-color="#1444e0"/><stop offset="0.32" stop-color="#2560e4"/><stop offset="0.56" stop-color="#3f8aec"/><stop offset="0.8" stop-color="#70c4f4"/><stop offset="1" stop-color="#8cdaf6"/></radialGradient>
<radialGradient id="g140" gradientUnits="userSpaceOnUse" cx="206.0" cy="461.4" r="40.0"><stop offset="0" stop-color="#d0f0ff"/><stop offset="0.16" stop-color="#a8e0fc"/><stop offset="0.38" stop-color="#6cbcf6"/><stop offset="0.62" stop-color="#3d86ec"/><stop offset="0.85" stop-color="#2058e2"/><stop offset="1" stop-color="#1c4ee0"/></radialGradient>
<radialGradient id="g141" gradientUnits="userSpaceOnUse" cx="206.0" cy="460.9" r="15.0"><stop offset="0" stop-color="#ffffff" stop-opacity="0.6"/><stop offset="0.35" stop-color="#d8f4ff" stop-opacity="0.32"/><stop offset="0.7" stop-color="#a0dcfa" stop-opacity="0.12"/><stop offset="1" stop-color="#80c8f8" stop-opacity="0"/></radialGradient>
<linearGradient id="g142" gradientUnits="userSpaceOnUse" x1="179.7" y1="445.8" x2="230.3" y2="445.8"><stop offset="0" stop-color="#7ccaf8"/><stop offset="0.5" stop-color="#9cc8fa"/><stop offset="1" stop-color="#6a9ef4"/></linearGradient>
<linearGradient id="g143" gradientUnits="userSpaceOnUse" x1="205.0" y1="434.8" x2="205.0" y2="455.8"><stop offset="0" stop-color="#a9bcf8"/><stop offset="0.5" stop-color="#d4e2fd"/><stop offset="1" stop-color="#f6faff"/></linearGradient>
<radialGradient id="g144" gradientUnits="userSpaceOnUse" cx="210.0" cy="434.0" r="36.0"><stop offset="0" stop-color="#4e56f0" stop-opacity="1"/><stop offset="0.42" stop-color="#4e56f2" stop-opacity="0.97"/><stop offset="0.6" stop-color="#5e6af4" stop-opacity="0.72"/><stop offset="0.76" stop-color="#7e94f6" stop-opacity="0.36"/><stop offset="0.9" stop-color="#a0baf8" stop-opacity="0.12"/><stop offset="1" stop-color="#b4d0fa" stop-opacity="0"/></radialGradient>
<linearGradient id="g145" gradientUnits="userSpaceOnUse" x1="257.0" y1="483.8" x2="257.0" y2="547.1"><stop offset="0" stop-color="#8fc8f8"/><stop offset="1" stop-color="#3a96e0"/></linearGradient>
<radialGradient id="g146" gradientUnits="userSpaceOnUse" cx="286.2" cy="542.6" r="47.0"><stop offset="0" stop-color="#1444e0"/><stop offset="0.32" stop-color="#2560e4"/><stop offset="0.56" stop-color="#3f8aec"/><stop offset="0.8" stop-color="#70c4f4"/><stop offset="1" stop-color="#8cdaf6"/></radialGradient>
<radialGradient id="g147" gradientUnits="userSpaceOnUse" cx="288.2" cy="515.0" r="40.0"><stop offset="0" stop-color="#d0f0ff"/><stop offset="0.16" stop-color="#a8e0fc"/><stop offset="0.38" stop-color="#6cbcf6"/><stop offset="0.62" stop-color="#3d86ec"/><stop offset="0.85" stop-color="#2058e2"/><stop offset="1" stop-color="#1c4ee0"/></radialGradient>
<radialGradient id="g148" gradientUnits="userSpaceOnUse" cx="288.2" cy="514.5" r="15.0"><stop offset="0" stop-color="#ffffff" stop-opacity="0.6"/><stop offset="0.35" stop-color="#d8f4ff" stop-opacity="0.32"/><stop offset="0.7" stop-color="#a0dcfa" stop-opacity="0.12"/><stop offset="1" stop-color="#80c8f8" stop-opacity="0"/></radialGradient>
<linearGradient id="g149" gradientUnits="userSpaceOnUse" x1="261.9" y1="499.4" x2="312.5" y2="499.4"><stop offset="0" stop-color="#7ccaf8"/><stop offset="0.5" stop-color="#9cc8fa"/><stop offset="1" stop-color="#6a9ef4"/></linearGradient>
<linearGradient id="g150" gradientUnits="userSpaceOnUse" x1="287.2" y1="488.4" x2="287.2" y2="509.4"><stop offset="0" stop-color="#a9bcf8"/><stop offset="0.5" stop-color="#d4e2fd"/><stop offset="1" stop-color="#f6faff"/></linearGradient>
<radialGradient id="g151" gradientUnits="userSpaceOnUse" cx="290.0" cy="478.0" r="40.0"><stop offset="0" stop-color="#4e56f0" stop-opacity="1"/><stop offset="0.42" stop-color="#4e56f2" stop-opacity="0.97"/><stop offset="0.6" stop-color="#5e6af4" stop-opacity="0.72"/><stop offset="0.76" stop-color="#7e94f6" stop-opacity="0.36"/><stop offset="0.9" stop-color="#a0baf8" stop-opacity="0.12"/><stop offset="1" stop-color="#b4d0fa" stop-opacity="0"/></radialGradient>
<linearGradient id="g152" gradientUnits="userSpaceOnUse" x1="335.5" y1="526.6" x2="335.5" y2="589.9"><stop offset="0" stop-color="#8fc8f8"/><stop offset="1" stop-color="#3a96e0"/></linearGradient>
<radialGradient id="g153" gradientUnits="userSpaceOnUse" cx="364.7" cy="585.4" r="47.0"><stop offset="0" stop-color="#1444e0"/><stop offset="0.32" stop-color="#2560e4"/><stop offset="0.56" stop-color="#3f8aec"/><stop offset="0.8" stop-color="#70c4f4"/><stop offset="1" stop-color="#8cdaf6"/></radialGradient>
<radialGradient id="g154" gradientUnits="userSpaceOnUse" cx="366.7" cy="557.8" r="40.0"><stop offset="0" stop-color="#d0f0ff"/><stop offset="0.16" stop-color="#a8e0fc"/><stop offset="0.38" stop-color="#6cbcf6"/><stop offset="0.62" stop-color="#3d86ec"/><stop offset="0.85" stop-color="#2058e2"/><stop offset="1" stop-color="#1c4ee0"/></radialGradient>
<radialGradient id="g155" gradientUnits="userSpaceOnUse" cx="366.7" cy="557.3" r="15.0"><stop offset="0" stop-color="#ffffff" stop-opacity="0.6"/><stop offset="0.35" stop-color="#d8f4ff" stop-opacity="0.32"/><stop offset="0.7" stop-color="#a0dcfa" stop-opacity="0.12"/><stop offset="1" stop-color="#80c8f8" stop-opacity="0"/></radialGradient>
<linearGradient id="g156" gradientUnits="userSpaceOnUse" x1="340.4" y1="542.2" x2="391.0" y2="542.2"><stop offset="0" stop-color="#7ccaf8"/><stop offset="0.5" stop-color="#9cc8fa"/><stop offset="1" stop-color="#6a9ef4"/></linearGradient>
<linearGradient id="g157" gradientUnits="userSpaceOnUse" x1="365.7" y1="531.2" x2="365.7" y2="552.2"><stop offset="0" stop-color="#a9bcf8"/><stop offset="0.5" stop-color="#d4e2fd"/><stop offset="1" stop-color="#f6faff"/></linearGradient>
<radialGradient id="g158" gradientUnits="userSpaceOnUse" cx="366.5" cy="523.5" r="40.0"><stop offset="0" stop-color="#4e56f0" stop-opacity="1"/><stop offset="0.42" stop-color="#4e56f2" stop-opacity="0.97"/><stop offset="0.6" stop-color="#5e6af4" stop-opacity="0.72"/><stop offset="0.76" stop-color="#7e94f6" stop-opacity="0.36"/><stop offset="0.9" stop-color="#a0baf8" stop-opacity="0.12"/><stop offset="1" stop-color="#b4d0fa" stop-opacity="0"/></radialGradient>
<linearGradient id="g159" gradientUnits="userSpaceOnUse" x1="416.0" y1="576.0" x2="416.0" y2="639.3"><stop offset="0" stop-color="#8fc8f8"/><stop offset="1" stop-color="#3a96e0"/></linearGradient>
<radialGradient id="g160" gradientUnits="userSpaceOnUse" cx="445.2" cy="634.8" r="47.0"><stop offset="0" stop-color="#1444e0"/><stop offset="0.32" stop-color="#2560e4"/><stop offset="0.56" stop-color="#3f8aec"/><stop offset="0.8" stop-color="#70c4f4"/><stop offset="1" stop-color="#8cdaf6"/></radialGradient>
<radialGradient id="g161" gradientUnits="userSpaceOnUse" cx="447.2" cy="607.2" r="40.0"><stop offset="0" stop-color="#d0f0ff"/><stop offset="0.16" stop-color="#a8e0fc"/><stop offset="0.38" stop-color="#6cbcf6"/><stop offset="0.62" stop-color="#3d86ec"/><stop offset="0.85" stop-color="#2058e2"/><stop offset="1" stop-color="#1c4ee0"/></radialGradient>
<radialGradient id="g162" gradientUnits="userSpaceOnUse" cx="447.2" cy="606.7" r="15.0"><stop offset="0" stop-color="#ffffff" stop-opacity="0.6"/><stop offset="0.35" stop-color="#d8f4ff" stop-opacity="0.32"/><stop offset="0.7" stop-color="#a0dcfa" stop-opacity="0.12"/><stop offset="1" stop-color="#80c8f8" stop-opacity="0"/></radialGradient>
<linearGradient id="g163" gradientUnits="userSpaceOnUse" x1="420.9" y1="591.6" x2="471.5" y2="591.6"><stop offset="0" stop-color="#7ccaf8"/><stop offset="0.5" stop-color="#9cc8fa"/><stop offset="1" stop-color="#6a9ef4"/></linearGradient>
<linearGradient id="g164" gradientUnits="userSpaceOnUse" x1="446.2" y1="580.6" x2="446.2" y2="601.6"><stop offset="0" stop-color="#a9bcf8"/><stop offset="0.5" stop-color="#d4e2fd"/><stop offset="1" stop-color="#f6faff"/></linearGradient>
<radialGradient id="g165" gradientUnits="userSpaceOnUse" cx="448.0" cy="569.0" r="40.0"><stop offset="0" stop-color="#4e56f0" stop-opacity="1"/><stop offset="0.42" stop-color="#4e56f2" stop-opacity="0.97"/><stop offset="0.6" stop-color="#5e6af4" stop-opacity="0.72"/><stop offset="0.76" stop-color="#7e94f6" stop-opacity="0.36"/><stop offset="0.9" stop-color="#a0baf8" stop-opacity="0.12"/><stop offset="1" stop-color="#b4d0fa" stop-opacity="0"/></radialGradient>
<linearGradient id="g166" gradientUnits="userSpaceOnUse" x1="490.5" y1="616.6" x2="490.5" y2="679.9"><stop offset="0" stop-color="#8fc8f8"/><stop offset="1" stop-color="#3a96e0"/></linearGradient>
<radialGradient id="g167" gradientUnits="userSpaceOnUse" cx="519.7" cy="675.4" r="47.0"><stop offset="0" stop-color="#1444e0"/><stop offset="0.32" stop-color="#2560e4"/><stop offset="0.56" stop-color="#3f8aec"/><stop offset="0.8" stop-color="#70c4f4"/><stop offset="1" stop-color="#8cdaf6"/></radialGradient>
<radialGradient id="g168" gradientUnits="userSpaceOnUse" cx="521.7" cy="647.8" r="40.0"><stop offset="0" stop-color="#d0f0ff"/><stop offset="0.16" stop-color="#a8e0fc"/><stop offset="0.38" stop-color="#6cbcf6"/><stop offset="0.62" stop-color="#3d86ec"/><stop offset="0.85" stop-color="#2058e2"/><stop offset="1" stop-color="#1c4ee0"/></radialGradient>
<radialGradient id="g169" gradientUnits="userSpaceOnUse" cx="521.7" cy="647.3" r="15.0"><stop offset="0" stop-color="#ffffff" stop-opacity="0.6"/><stop offset="0.35" stop-color="#d8f4ff" stop-opacity="0.32"/><stop offset="0.7" stop-color="#a0dcfa" stop-opacity="0.12"/><stop offset="1" stop-color="#80c8f8" stop-opacity="0"/></radialGradient>
<linearGradient id="g170" gradientUnits="userSpaceOnUse" x1="495.4" y1="632.2" x2="546.0" y2="632.2"><stop offset="0" stop-color="#7ccaf8"/><stop offset="0.5" stop-color="#9cc8fa"/><stop offset="1" stop-color="#6a9ef4"/></linearGradient>
<linearGradient id="g171" gradientUnits="userSpaceOnUse" x1="520.7" y1="621.2" x2="520.7" y2="642.2"><stop offset="0" stop-color="#a9bcf8"/><stop offset="0.5" stop-color="#d4e2fd"/><stop offset="1" stop-color="#f6faff"/></linearGradient>
<radialGradient id="g172" gradientUnits="userSpaceOnUse" cx="521.0" cy="612.0" r="40.0"><stop offset="0" stop-color="#4e56f0" stop-opacity="1"/><stop offset="0.42" stop-color="#4e56f2" stop-opacity="0.97"/><stop offset="0.6" stop-color="#5e6af4" stop-opacity="0.72"/><stop offset="0.76" stop-color="#7e94f6" stop-opacity="0.36"/><stop offset="0.9" stop-color="#a0baf8" stop-opacity="0.12"/><stop offset="1" stop-color="#b4d0fa" stop-opacity="0"/></radialGradient>
<linearGradient id="g173" gradientUnits="userSpaceOnUse" x1="525.0" y1="770.0" x2="690.0" y2="802.0"><stop offset="0" stop-color="#12d0f4"/><stop offset="0.3" stop-color="#18b2f0"/><stop offset="0.62" stop-color="#2090ea"/><stop offset="1" stop-color="#2a70e4"/></linearGradient>
<linearGradient id="g174" gradientUnits="userSpaceOnUse" x1="600.0" y1="760.0" x2="600.0" y2="830.0"><stop offset="0" stop-color="#2060e2" stop-opacity="0"/><stop offset="0.45" stop-color="#2060e2" stop-opacity="0.08"/><stop offset="1" stop-color="#1f58e0" stop-opacity="0.6"/></linearGradient>
<radialGradient id="g175" gradientUnits="userSpaceOnUse" cx="547.5" cy="765.2" r="9.0"><stop offset="0" stop-color="#ffffff" stop-opacity="0.9"/><stop offset="0.4" stop-color="#9cffe8" stop-opacity="0.5"/><stop offset="1" stop-color="#40f0d0" stop-opacity="0"/></radialGradient>
<radialGradient id="g176" gradientUnits="userSpaceOnUse" cx="655.3" cy="763.3" r="9.0"><stop offset="0" stop-color="#ffffff" stop-opacity="0.9"/><stop offset="0.4" stop-color="#9cffe8" stop-opacity="0.5"/><stop offset="1" stop-color="#40f0d0" stop-opacity="0"/></radialGradient>
<linearGradient id="g177" gradientUnits="userSpaceOnUse" x1="565.0" y1="750.0" x2="640.0" y2="775.0"><stop offset="0" stop-color="#2390ea"/><stop offset="0.55" stop-color="#2484e8"/><stop offset="1" stop-color="#2a6fe0"/></linearGradient>
<filter id="tb" x="-30%" y="-80%" width="160%" height="260%"><feGaussianBlur stdDeviation="6"/></filter>
</defs>
<rect width="689" height="880" fill="#c5e8fa"/>
<polygon points="355.0,330.6 383.1,316.5 411.2,330.6 383.1,344.7" fill="#b2d0f8" />
<polygon points="355.0,358.8 383.1,344.7 411.2,358.8 383.1,372.9" fill="#b2d0f8" />
<polygon points="411.0,358.8 439.1,344.7 467.2,358.8 439.1,372.9" fill="#b2d0f8" />
<polygon points="467.0,358.8 495.1,344.7 523.2,358.8 495.1,372.9" fill="#b2d0f8" />
<polygon points="355.0,387.0 383.1,372.9 411.2,387.0 383.1,401.1" fill="#b2d0f8" />
<polygon points="411.0,387.0 439.1,372.9 467.2,387.0 439.1,401.1" fill="#b2d0f8" />
<polygon points="467.0,387.0 495.1,372.9 523.2,387.0 495.1,401.1" fill="#b2d0f8" />
<polygon points="523.0,387.0 551.1,372.9 579.2,387.0 551.1,401.1" fill="#b2d0f8" />
<polygon points="579.0,387.0 607.1,372.9 635.2,387.0 607.1,401.1" fill="#b2d0f8" />
<polygon points="355.0,415.2 383.1,401.1 411.2,415.2 383.1,429.3" fill="#b2d0f8" />
<polygon points="411.0,415.2 439.1,401.1 467.2,415.2 439.1,429.3" fill="#b2d0f8" />
<polygon points="467.0,415.2 495.1,401.1 523.2,415.2 495.1,429.3" fill="#b2d0f8" />
<polygon points="355.0,443.4 383.1,429.3 411.2,443.4 383.1,457.5" fill="#b2d0f8" />
<polygon points="411.0,443.4 439.1,429.3 467.2,443.4 439.1,457.5" fill="#b2d0f8" />
<polygon points="355.0,471.6 383.1,457.5 411.2,471.6 383.1,485.7" fill="#b2d0f8" />
<polygon points="58.9,565.3 87.0,551.2 115.1,565.3 87.0,579.4" fill="#b2d0f8" />
<polygon points="58.9,593.8 87.0,579.7 115.1,593.8 87.0,607.9" fill="#b2d0f8" />
<polygon points="114.9,593.8 143.0,579.7 171.1,593.8 143.0,607.9" fill="#b2d0f8" />
<polygon points="170.9,593.8 199.0,579.7 227.1,593.8 199.0,607.9" fill="#b2d0f8" />
<polygon points="58.9,622.3 87.0,608.2 115.1,622.3 87.0,636.4" fill="#b2d0f8" />
<polygon points="114.9,622.3 143.0,608.2 171.1,622.3 143.0,636.4" fill="#b2d0f8" />
<polygon points="170.9,622.3 199.0,608.2 227.1,622.3 199.0,636.4" fill="#b2d0f8" />
<polygon points="226.9,622.3 255.0,608.2 283.1,622.3 255.0,636.4" fill="#b2d0f8" />
<polygon points="282.9,622.3 311.0,608.2 339.1,622.3 311.0,636.4" fill="#b2d0f8" />
<polygon points="58.9,650.8 87.0,636.7 115.1,650.8 87.0,664.9" fill="#b2d0f8" />
<polygon points="114.9,650.8 143.0,636.7 171.1,650.8 143.0,664.9" fill="#b2d0f8" />
<polygon points="170.9,650.8 199.0,636.7 227.1,650.8 199.0,664.9" fill="#b2d0f8" />
<polygon points="58.9,679.3 87.0,665.2 115.1,679.3 87.0,693.4" fill="#b2d0f8" />
<polygon points="114.9,679.3 143.0,665.2 171.1,679.3 143.0,693.4" fill="#b2d0f8" />
<polygon points="170.9,679.3 199.0,665.2 227.1,679.3 199.0,693.4" fill="#b2d0f8" />
<polygon points="226.9,679.3 255.0,665.2 283.1,679.3 255.0,693.4" fill="#b2d0f8" />
<polygon points="282.9,679.3 311.0,665.2 339.1,679.3 311.0,693.4" fill="#b2d0f8" />
<polygon points="58.9,707.8 87.0,693.7 115.1,707.8 87.0,721.9" fill="#b2d0f8" />
<polygon points="170.9,707.8 199.0,693.7 227.1,707.8 199.0,721.9" fill="#b2d0f8" />
<polygon points="226.9,707.8 255.0,693.7 283.1,707.8 255.0,721.9" fill="#b2d0f8" />
<polygon points="282.9,707.8 311.0,693.7 339.1,707.8 311.0,721.9" fill="#b2d0f8" />
<polygon points="338.9,707.8 367.0,693.7 395.1,707.8 367.0,721.9" fill="#b2d0f8" />
<polygon points="170.9,736.3 199.0,722.2 227.1,736.3 199.0,750.4" fill="#b2d0f8" />
<polygon points="226.9,736.3 255.0,722.2 283.1,736.3 255.0,750.4" fill="#b2d0f8" />
<polygon points="282.9,736.3 311.0,722.2 339.1,736.3 311.0,750.4" fill="#b2d0f8" />
<polygon points="170.9,764.8 199.0,750.7 227.1,764.8 199.0,778.9" fill="#b2d0f8" />
<polygon points="226.9,764.8 255.0,750.7 283.1,764.8 255.0,778.9" fill="#b2d0f8" />
<polygon points="170.9,793.3 199.0,779.2 227.1,793.3 199.0,807.4" fill="#b2d0f8" />
<polygon points="98.3,26.6 77.1,62.4 98.3,75.8 119.9,62.4" fill="#25777b" />
<polygon points="98.3,26.6 77.1,62.4 98.3,75.8" fill="#3ea088" />
<rect x="96.1" y="74.8" width="4.4" height="9.2" rx="1.5" fill="#94563a"/>
<polygon points="98.3,18.6 77.1,49.3 98.3,61.4 119.9,49.3" fill="#2e8a8e" />
<polygon points="98.3,18.6 77.1,49.3 98.3,61.4" fill="#5abda4" />
<polygon points="66.5,51.0 48.2,80.1 66.5,92.7 84.9,80.1" fill="#25777b" />
<polygon points="66.5,51.0 48.2,80.1 66.5,92.7" fill="#3ea088" />
<rect x="64.5" y="91.7" width="3.9" height="12.8" rx="1.5" fill="#94563a"/>
<polygon points="66.5,43.0 48.2,68.7 66.5,79.5 84.9,68.7" fill="#2e8a8e" />
<polygon points="66.5,43.0 48.2,68.7 66.5,79.5" fill="#5abda4" />
<polygon points="542.1,299.5 523.6,329.5 542.1,341.1 560.6,329.5" fill="#25777b" />
<polygon points="542.1,299.5 523.6,329.5 542.1,341.1" fill="#3ea088" />
<rect x="540.4" y="340.1" width="3.5" height="12.6" rx="1.5" fill="#94563a"/>
<polygon points="542.1,291.5 523.6,316.7 542.1,328.0 560.6,316.7" fill="#2e8a8e" />
<polygon points="542.1,291.5 523.6,316.7 542.1,328.0" fill="#5abda4" />
<polygon points="513.7,287.9 491.9,324.0 513.7,336.8 534.9,324.0" fill="#25777b" />
<polygon points="513.7,287.9 491.9,324.0 513.7,336.8" fill="#3ea088" />
<rect x="511.8" y="335.8" width="3.9" height="14.8" rx="1.5" fill="#94563a"/>
<polygon points="513.7,279.9 491.9,309.4 513.7,322.0 534.9,309.4" fill="#2e8a8e" />
<polygon points="513.7,279.9 491.9,309.4 513.7,322.0" fill="#5abda4" />
<polygon points="46.7,610.1 25.6,645.4 46.7,659.0 68.1,645.4" fill="#25777b" />
<polygon points="46.7,610.1 25.6,645.4 46.7,659.0" fill="#3ea088" />
<rect x="44.5" y="658.0" width="4.4" height="14.7" rx="1.5" fill="#94563a"/>
<polygon points="46.7,602.1 25.6,631.8 46.7,644.0 68.1,631.8" fill="#2e8a8e" />
<polygon points="46.7,602.1 25.6,631.8 46.7,644.0" fill="#5abda4" />
<polygon points="293.4,713.6 272.5,751.6 293.4,763.6 315.3,751.6" fill="#25777b" />
<polygon points="293.4,713.6 272.5,751.6 293.4,763.6" fill="#3ea088" />
<rect x="291.4" y="762.6" width="4.0" height="13.6" rx="1.5" fill="#94563a"/>
<polygon points="293.4,705.6 272.5,737.5 293.4,749.0 315.3,737.5" fill="#2e8a8e" />
<polygon points="293.4,705.6 272.5,737.5 293.4,749.0" fill="#5abda4" />
<polygon points="130.2,783.9 111.8,815.1 130.2,826.0 148.9,815.1" fill="#25777b" />
<polygon points="130.2,783.9 111.8,815.1 130.2,826.0" fill="#3ea088" />
<rect x="128.3" y="825.0" width="3.8" height="12.2" rx="1.5" fill="#94563a"/>
<polygon points="130.2,775.9 111.8,802.1 130.2,813.4 148.9,802.1" fill="#2e8a8e" />
<polygon points="130.2,775.9 111.8,802.1 130.2,813.4" fill="#5abda4" />
<polygon points="172.0,771.0 144.8,818.5 172.0,835.5 199.3,818.5" fill="#25777b" />
<polygon points="172.0,771.0 144.8,818.5 172.0,835.5" fill="#3ea088" />
<rect x="169.4" y="834.5" width="5.1" height="18.1" rx="1.5" fill="#94563a"/>
<polygon points="172.0,763.0 144.8,803.2 172.0,816.8 199.3,803.2" fill="#2e8a8e" />
<polygon points="172.0,763.0 144.8,803.2 172.0,816.8" fill="#5abda4" />
<polygon points="145.6,38.5 209.1,-0.3 276.7,40.5 213.5,76.0" fill="url(#g1)" />
<polygon points="213.5,76.0 276.7,40.5 276.7,160.0 242.8,174.0 213.5,188.5" fill="url(#g2)" />
<polygon points="215.0,187.0 219.0,185.0 219.0,196.0 215.0,198.0" fill="#4d68d8" />
<polygon points="225.8,92.7 265.8,71.0 265.8,116.0 225.8,141.0" fill="#2f1a68" />
<polygon points="262.0,73.0 265.8,71.0 265.8,116.0 262.0,113.5" fill="#3d49c2" />
<polygon points="225.8,92.7 267.2,116.5 267.2,164.0 225.8,140.3" fill="#3b8fc1" />
<path d="M146.5,13 L211,45.8 Q213.5,47 213.5,50 L213.5,199 Q213.5,203.5 210,201.3 L146.5,165 Q144,163.5 144,160.5 L144,14.5 Q144,11.8 146.5,13Z" fill="#5bb3e3"/>
<polygon points="211.3,46.0 213.5,47.5 213.5,202.0 211.3,201.0" fill="#4a9fd6" />
<polygon points="143.0,38.0 144.0,38.0 144.0,66.0 143.0,66.0" fill="#c060d0" />
<polygon points="148.0,19.6 208.8,51.0 208.8,173.7 148.0,142.4" fill="#063a7c" />
<polygon points="154.0,30.0 165.5,35.8 165.5,60.2 154.0,54.5" fill="#7fdcf8" />
<polygon points="156.4,39.2 163.1,42.5 163.1,55.2 156.4,48.3" fill="#4a2ad0" />
<polygon points="157.6,35.8 161.9,38.0 161.9,44.5 157.6,42.3" fill="#f2f2ff" />
<polygon points="159.2,43.5 160.5,44.2 160.5,51.5 159.2,50.9" fill="#e89a5a" />
<polygon points="171.7,38.7 183.2,44.5 183.2,69.0 171.7,63.2" fill="#7fdcf8" />
<polygon points="174.1,47.9 180.8,51.2 180.8,64.0 174.1,57.0" fill="#4a2ad0" />
<polygon points="175.3,44.5 179.6,46.7 179.6,53.2 175.3,51.0" fill="#f2f2ff" />
<polygon points="176.9,52.2 178.2,52.9 178.2,60.2 176.9,59.6" fill="#e89a5a" />
<polygon points="191.0,47.5 202.5,53.2 202.5,77.8 191.0,72.0" fill="#7fdcf8" />
<polygon points="193.4,56.7 200.1,60.0 200.1,72.8 193.4,65.8" fill="#4a2ad0" />
<polygon points="194.6,53.3 198.9,55.5 198.9,62.0 194.6,59.8" fill="#f2f2ff" />
<polygon points="196.2,61.0 197.5,61.7 197.5,69.0 196.2,68.4" fill="#e89a5a" />
<polygon points="139.9,59.6 200.0,87.6 200.0,160.0 139.9,127.1" fill="#7fe1fb" />
<polygon points="134.1,66.9 193.9,95.9 193.9,132.2 168.5,119.1 134.1,103.0" fill="#f0a06c" />
<polygon points="172.0,86.5 188.0,94.5 188.0,128.5 172.0,119.5" fill="#d9f6fe" />
<path d="M172,109 Q176,106.5 180,108.5 Q185,108 188,100 L188,128.5 L172,119.5Z" fill="#7fe1fb"/>
<polygon points="153.2,118.4 180.1,131.7 180.1,135.8 153.2,122.0" fill="#1cbcf4" />
<polygon points="153.2,125.3 180.1,138.7 180.1,142.8 153.2,128.8" fill="#1cbcf4" />
<polygon points="456.4,262.0 464.5,262.0 464.0,302.0 454.4,300.0" fill="url(#g3)" />
<polygon points="461.0,262.0 464.5,262.0 464.0,302.0 460.4,301.2" fill="#1b93ad" opacity="0.75"/>
<polygon points="356.4,322.0 364.6,322.0 364.1,362.0 354.4,360.0" fill="url(#g4)" />
<polygon points="361.1,322.0 364.6,322.0 364.1,362.0 360.5,361.2" fill="#1b93ad" opacity="0.75"/>
<polygon points="299.0,357.0 307.0,357.0 306.5,396.7 297.0,394.7" fill="url(#g5)" />
<polygon points="303.6,357.0 307.0,357.0 306.5,396.7 302.9,395.9" fill="#1b93ad" opacity="0.75"/>
<polygon points="85.8,450.0 94.0,450.0 93.5,487.5 83.8,485.5" fill="url(#g6)" />
<polygon points="90.5,450.0 94.0,450.0 93.5,487.5 89.9,486.7" fill="#1b93ad" opacity="0.75"/>
<polygon points="186.3,506.0 194.4,506.0 193.9,547.6 184.3,545.6" fill="url(#g7)" />
<polygon points="190.9,506.0 194.4,506.0 193.9,547.6 190.3,546.8" fill="#1b93ad" opacity="0.75"/>
<polygon points="242.0,542.0 249.3,542.0 248.8,580.0 240.0,578.0" fill="url(#g8)" />
<polygon points="246.1,542.0 249.3,542.0 248.8,580.0 245.6,579.2" fill="#1b93ad" opacity="0.75"/>
<polygon points="342.3,600.0 349.6,600.0 349.1,640.3 340.3,638.3" fill="url(#g9)" />
<polygon points="346.4,600.0 349.6,600.0 349.1,640.3 345.9,639.5" fill="#1b93ad" opacity="0.75"/>
<polygon points="397.7,634.0 405.8,634.0 405.3,673.0 395.7,671.0" fill="url(#g10)" />
<polygon points="402.3,634.0 405.8,634.0 405.3,673.0 401.7,672.2" fill="#1b93ad" opacity="0.75"/>
<polygon points="498.0,692.0 506.0,692.0 505.5,733.7 496.0,731.7" fill="url(#g11)" />
<polygon points="502.6,692.0 506.0,692.0 505.5,733.7 501.9,732.9" fill="#1b93ad" opacity="0.75"/>
<polygon points="564.0,686.0 572.0,686.0 571.5,711.0 562.0,709.0" fill="url(#g12)" />
<polygon points="568.6,686.0 572.0,686.0 571.5,711.0 568.0,710.2" fill="#1b93ad" opacity="0.75"/>
<polygon points="226.0,140.0 433.0,260.0 474.5,236.0 269.0,115.5" fill="url(#g13)" />
<polygon points="474.5,236.0 319.0,325.4 274.0,299.8 388.0,234.0" fill="url(#g14)" />
<polygon points="225.8,92.7 267.2,116.5 267.2,164.0 225.8,140.3" fill="#3b8fc1" />
<polygon points="267.2,116.5 281.0,108.5 281.0,125.0 267.2,133.0" fill="#9fc4f4" opacity="0.5"/>
<polygon points="213.5,176.5 230.4,169.0 241.5,175.5 218.8,188.4" fill="#8a56e8" />
<polygon points="226.0,141.8 383.0,231.8 383.0,241.6 226.0,151.6" fill="url(#g15)" />
<circle cx="383.0" cy="236.7" r="4.9" fill="#6a206c"/>
<ellipse cx="231.0" cy="147.8" rx="4.5" ry="4.8" fill="url(#g16)"/>
<ellipse cx="240.0" cy="152.9" rx="4.5" ry="4.8" fill="url(#g17)"/>
<ellipse cx="249.0" cy="158.1" rx="4.5" ry="4.8" fill="url(#g18)"/>
<ellipse cx="292.3" cy="182.9" rx="4.5" ry="4.8" fill="url(#g19)"/>
<ellipse cx="301.3" cy="188.1" rx="4.5" ry="4.8" fill="url(#g20)"/>
<ellipse cx="310.3" cy="193.2" rx="4.5" ry="4.8" fill="url(#g21)"/>
<ellipse cx="362.3" cy="223.0" rx="4.5" ry="4.8" fill="url(#g22)"/>
<ellipse cx="371.3" cy="228.2" rx="4.5" ry="4.8" fill="url(#g23)"/>
<ellipse cx="380.3" cy="233.4" rx="4.5" ry="4.8" fill="url(#g24)"/>
<polygon points="226.0,140.3 383.0,230.3 383.0,232.1 226.0,142.1" fill="#4fa6e4" />
<path d="M383.0,231.1 A5.6,5.6 0 0 1 383.0,242.2" stroke="#4f7ee4" stroke-width="1.4" fill="none"/>
<polygon points="226.0,151.2 383.0,241.2 383.0,243.2 226.0,153.2" fill="#45a9dc" />
<polygon points="226.0,153.0 383.0,243.0 383.0,245.2 226.0,155.2" fill="#17878f" />
<polygon points="230.5,157.4 381.0,243.7 381.0,254.1 230.5,167.8" fill="url(#g25)" />
<polygon points="266.8,157.3 298.5,139.0 298.5,94.0 266.8,112.3" fill="#9cc4f6" opacity="0.32"/>
<polygon points="330.2,157.3 298.5,139.0 298.5,94.0 330.2,112.3" fill="#a8ccf8" opacity="0.32"/>
<polygon points="266.8,157.3 298.5,139.0 330.2,157.3 298.5,175.6" fill="#2b8fd0" opacity="0.30"/>
<polygon points="266.8,112.3 298.5,130.6 298.5,175.6 266.8,157.3" fill="url(#g26)" opacity="0.42"/>
<polygon points="298.5,130.6 330.2,112.3 330.2,157.3 298.5,175.6" fill="url(#g26)" opacity="0.34"/>
<polygon points="271.7,127.9 297.0,142.5 297.0,170.1 271.7,155.5" fill="url(#g27)" />
<polygon points="297.0,142.5 322.3,127.9 322.3,155.5 297.0,170.1" fill="url(#g28)" />
<polygon points="271.7,127.9 297.0,142.5 322.3,127.9 322.3,155.5 297.0,170.1 271.7,155.5" fill="url(#g29)" />
<polygon points="271.7,127.9 297.0,113.3 322.3,127.9 297.0,142.5" fill="url(#g30)" />
<polygon points="271.7,127.9 297.0,142.5 297.0,140.3 274.7,127.5" fill="#7ad0f8" opacity="0.8"/>
<polygon points="278.8,127.4 297.0,116.9 315.2,127.4 297.0,137.9" fill="url(#g31)" opacity="0.95" stroke="#dbe8fe" stroke-width="2" stroke-linejoin="round"/>
<polyline points="278.8,128.1 297.0,138.6 307.0,132.8" fill="none" stroke="#52bcf8" stroke-width="1.2" stroke-linejoin="round" opacity="0.95"/>
<polygon points="266.8,112.3 298.5,94.0 330.2,112.3 298.5,130.6" fill="#b4d0fa" opacity="0.28"/>
<polygon points="266.8,112.3 298.5,130.6 298.5,175.6 266.8,157.3" fill="#7cc0f4" opacity="0.08"/>
<circle cx="299.5" cy="102.0" r="40" fill="url(#g32)" opacity="1"/>
<path d="M286.5,99.2 H303.5 Q306.8,99.2 306.8,102.5 V110.5 Q306.8,113.8 303.5,113.8 H301 L299,118 L296,113.8 H286.5 Q283.2,113.8 283.2,110.5 V102.5 Q283.2,99.2 286.5,99.2Z" fill="#5b6af0" stroke="#fff" stroke-width="1.3"/>
<path d="M294.5,88 H312.8 Q316.2,88 316.2,91.4 V102.2 Q316.2,105.6 312.8,105.6 H303 L298.6,110 L298.2,105.6 H294.5 Q291.1,105.6 291.1,102.2 V91.4 Q291.1,88 294.5,88Z" fill="#fff"/>
<circle cx="296.5" cy="96.6" r="2.1" fill="#5b6af0"/>
<circle cx="303.6" cy="96.6" r="2.1" fill="#5b6af0"/>
<circle cx="310.7" cy="96.6" r="2.1" fill="#5b6af0"/>
<polygon points="330.2,196.3 361.9,178.0 361.9,133.0 330.2,151.3" fill="#9cc4f6" opacity="0.32"/>
<polygon points="393.6,196.3 361.9,178.0 361.9,133.0 393.6,151.3" fill="#a8ccf8" opacity="0.32"/>
<polygon points="330.2,196.3 361.9,178.0 393.6,196.3 361.9,214.6" fill="#2b8fd0" opacity="0.30"/>
<polygon points="330.2,151.3 361.9,169.6 361.9,214.6 330.2,196.3" fill="url(#g33)" opacity="0.42"/>
<polygon points="361.9,169.6 393.6,151.3 393.6,196.3 361.9,214.6" fill="url(#g33)" opacity="0.34"/>
<polygon points="335.1,166.9 360.4,181.5 360.4,209.1 335.1,194.5" fill="url(#g34)" />
<polygon points="360.4,181.5 385.7,166.9 385.7,194.5 360.4,209.1" fill="url(#g35)" />
<polygon points="335.1,166.9 360.4,181.5 385.7,166.9 385.7,194.5 360.4,209.1 335.1,194.5" fill="url(#g36)" />
<polygon points="335.1,166.9 360.4,152.3 385.7,166.9 360.4,181.5" fill="url(#g37)" />
<polygon points="335.1,166.9 360.4,181.5 360.4,179.3 338.1,166.5" fill="#7ad0f8" opacity="0.8"/>
<polygon points="342.2,166.4 360.4,155.9 378.6,166.4 360.4,176.9" fill="url(#g38)" opacity="0.95" stroke="#dbe8fe" stroke-width="2" stroke-linejoin="round"/>
<polyline points="342.2,167.1 360.4,177.6 370.4,171.8" fill="none" stroke="#52bcf8" stroke-width="1.2" stroke-linejoin="round" opacity="0.95"/>
<polygon points="330.2,151.3 361.9,133.0 393.6,151.3 361.9,169.6" fill="#b4d0fa" opacity="0.28"/>
<polygon points="330.2,151.3 361.9,169.6 361.9,214.6 330.2,196.3" fill="#7cc0f4" opacity="0.08"/>
<circle cx="364.5" cy="141.0" r="40" fill="url(#g39)" opacity="1"/>
<path d="M360.3,125.8 H373.5 L379.2,131.5 V148.6 Q379.2,150.8 377,150.8 H360.3 Q358.9,150.8 358.9,149 V127.4 Q358.9,125.8 360.3,125.8Z" fill="#5b6af0" stroke="#fff" stroke-width="1.5"/>
<path d="M351.5,130.8 H364.8 L370.2,136.2 V154.8 Q370.2,156.4 368.6,156.4 H351.5 Q349.9,156.4 349.9,154.8 V132.4 Q349.9,130.8 351.5,130.8Z" fill="#fff"/>
<path d="M352.3,137.4 H361.5 M352.3,142.3 H366 M352.3,147 H366 M352.3,151.8 H366" stroke="#5b6af0" stroke-width="1.5"/>
<polygon points="274.0,299.8 319.0,325.4 317.5,330.4 272.5,304.4" fill="#2a86b6" />
<polygon points="317.5,330.4 117.4,443.5 74.4,421.2 272.5,304.4" fill="url(#g40)" />
<polygon points="74.4,421.2 229.7,510.8 274.7,484.8 119.4,395.2" fill="url(#g41)" />
<polygon points="398.9,235.2 430.6,216.9 430.6,171.9 398.9,190.2" fill="#9cc4f6" opacity="0.32"/>
<polygon points="462.3,235.2 430.6,216.9 430.6,171.9 462.3,190.2" fill="#a8ccf8" opacity="0.32"/>
<polygon points="398.9,235.2 430.6,216.9 462.3,235.2 430.6,253.5" fill="#2b8fd0" opacity="0.30"/>
<polygon points="398.9,190.2 430.6,208.5 430.6,253.5 398.9,235.2" fill="url(#g42)" opacity="0.42"/>
<polygon points="430.6,208.5 462.3,190.2 462.3,235.2 430.6,253.5" fill="url(#g42)" opacity="0.34"/>
<polygon points="403.8,205.8 429.1,220.4 429.1,248.0 403.8,233.4" fill="url(#g43)" />
<polygon points="429.1,220.4 454.4,205.8 454.4,233.4 429.1,248.0" fill="url(#g44)" />
<polygon points="403.8,205.8 429.1,220.4 454.4,205.8 454.4,233.4 429.1,248.0 403.8,233.4" fill="url(#g45)" />
<polygon points="403.8,205.8 429.1,191.2 454.4,205.8 429.1,220.4" fill="url(#g46)" />
<polygon points="403.8,205.8 429.1,220.4 429.1,218.2 406.8,205.4" fill="#7ad0f8" opacity="0.8"/>
<polygon points="410.9,205.3 429.1,194.8 447.3,205.3 429.1,215.8" fill="url(#g47)" opacity="0.95" stroke="#dbe8fe" stroke-width="2" stroke-linejoin="round"/>
<polyline points="410.9,206.0 429.1,216.5 439.1,210.7" fill="none" stroke="#52bcf8" stroke-width="1.2" stroke-linejoin="round" opacity="0.95"/>
<polygon points="398.9,190.2 430.6,171.9 462.3,190.2 430.6,208.5" fill="#b4d0fa" opacity="0.28"/>
<polygon points="398.9,190.2 430.6,208.5 430.6,253.5 398.9,235.2" fill="#7cc0f4" opacity="0.08"/>
<circle cx="430.3" cy="190.0" r="40" fill="url(#g48)" opacity="1"/>
<path d="M412.3,195.6 L430.3,186.4 L448.3,195.6 L430.3,205.2 Z" fill="#5b6af0" stroke="#fff" stroke-width="1.6" stroke-linejoin="round"/>
<path d="M412.3,189.4 L430.3,180.2 L448.3,189.4 L430.3,199.0 Z" fill="#5b6af0" stroke="#fff" stroke-width="1.6" stroke-linejoin="round"/>
<path d="M412.8,183.7 L430.3,174.8 L447.8,183.7 L430.3,192.8 Z" fill="#fff" stroke="#fff" stroke-width="1" stroke-linejoin="round"/>
<polygon points="474.5,236.2 319.0,325.6 319.0,334.9 474.5,245.5" fill="url(#g49)" />
<circle cx="319.0" cy="330.2" r="4.7" fill="#6a206c"/>
<ellipse cx="469.8" cy="241.9" rx="4.5" ry="4.8" fill="url(#g50)"/>
<ellipse cx="460.8" cy="247.1" rx="4.5" ry="4.8" fill="url(#g51)"/>
<ellipse cx="451.8" cy="252.3" rx="4.5" ry="4.8" fill="url(#g52)"/>
<ellipse cx="411.0" cy="275.7" rx="4.5" ry="4.8" fill="url(#g53)"/>
<ellipse cx="402.0" cy="280.9" rx="4.5" ry="4.8" fill="url(#g54)"/>
<ellipse cx="393.0" cy="286.1" rx="4.5" ry="4.8" fill="url(#g55)"/>
<ellipse cx="342.4" cy="315.1" rx="4.5" ry="4.8" fill="url(#g56)"/>
<ellipse cx="333.4" cy="320.3" rx="4.5" ry="4.8" fill="url(#g57)"/>
<ellipse cx="324.4" cy="325.5" rx="4.5" ry="4.8" fill="url(#g58)"/>
<polygon points="474.5,234.7 319.0,324.1 319.0,325.9 474.5,236.5" fill="#4fa6e4" />
<path d="M319.0,324.9 A5.3,5.3 0 0 0 319.0,335.5" stroke="#4f7ee4" stroke-width="1.4" fill="none"/>
<polygon points="474.5,245.1 319.0,334.5 319.0,336.5 474.5,247.1" fill="#45a9dc" />
<polygon points="474.5,246.9 319.0,336.3 319.0,338.5 474.5,249.1" fill="#17878f" />
<polygon points="471.5,250.4 318.0,338.7 327.0,343.6 471.5,260.5" fill="url(#g59)" />
<polygon points="318.6,334.2 328.0,332.2 328.0,343.0 318.6,338.0" fill="#6a2ae8" />
<polygon points="317.5,330.8 166.5,415.7 166.5,425.0 317.5,340.1" fill="url(#g60)" />
<circle cx="166.5" cy="420.4" r="4.7" fill="#6a206c"/>
<ellipse cx="312.3" cy="336.7" rx="4.5" ry="4.8" fill="url(#g61)"/>
<ellipse cx="303.3" cy="341.8" rx="4.5" ry="4.8" fill="url(#g62)"/>
<ellipse cx="294.3" cy="346.8" rx="4.5" ry="4.8" fill="url(#g63)"/>
<ellipse cx="253.6" cy="369.7" rx="4.5" ry="4.8" fill="url(#g64)"/>
<ellipse cx="244.6" cy="374.8" rx="4.5" ry="4.8" fill="url(#g65)"/>
<ellipse cx="235.6" cy="379.8" rx="4.5" ry="4.8" fill="url(#g66)"/>
<ellipse cx="185.4" cy="408.1" rx="4.5" ry="4.8" fill="url(#g67)"/>
<ellipse cx="176.4" cy="413.1" rx="4.5" ry="4.8" fill="url(#g68)"/>
<ellipse cx="167.4" cy="418.2" rx="4.5" ry="4.8" fill="url(#g69)"/>
<polygon points="317.5,329.3 166.5,414.2 166.5,416.0 317.5,331.1" fill="#4fa6e4" />
<path d="M166.5,415.0 A5.3,5.3 0 0 0 166.5,425.6" stroke="#4f7ee4" stroke-width="1.4" fill="none"/>
<polygon points="317.5,339.7 166.5,424.6 166.5,426.6 317.5,341.7" fill="#45a9dc" />
<polygon points="317.5,341.5 166.5,426.4 166.5,428.6 317.5,343.7" fill="#17878f" />
<polygon points="314.5,345.0 169.5,426.5 169.5,436.6 314.5,355.1" fill="url(#g70)" />
<polygon points="316.3,285.9 348.0,267.6 348.0,222.6 316.3,240.9" fill="#9cc4f6" opacity="0.32"/>
<polygon points="379.7,285.9 348.0,267.6 348.0,222.6 379.7,240.9" fill="#a8ccf8" opacity="0.32"/>
<polygon points="316.3,285.9 348.0,267.6 379.7,285.9 348.0,304.2" fill="#2b8fd0" opacity="0.30"/>
<polygon points="316.3,240.9 348.0,259.2 348.0,304.2 316.3,285.9" fill="url(#g71)" opacity="0.42"/>
<polygon points="348.0,259.2 379.7,240.9 379.7,285.9 348.0,304.2" fill="url(#g71)" opacity="0.34"/>
<polygon points="321.2,256.5 346.5,271.1 346.5,298.7 321.2,284.1" fill="url(#g72)" />
<polygon points="346.5,271.1 371.8,256.5 371.8,284.1 346.5,298.7" fill="url(#g73)" />
<polygon points="321.2,256.5 346.5,271.1 371.8,256.5 371.8,284.1 346.5,298.7 321.2,284.1" fill="url(#g74)" />
<polygon points="321.2,256.5 346.5,241.9 371.8,256.5 346.5,271.1" fill="url(#g75)" />
<polygon points="321.2,256.5 346.5,271.1 346.5,268.9 324.2,256.1" fill="#7ad0f8" opacity="0.8"/>
<polygon points="328.3,256.0 346.5,245.5 364.7,256.0 346.5,266.5" fill="url(#g76)" opacity="0.95" stroke="#dbe8fe" stroke-width="2" stroke-linejoin="round"/>
<polyline points="328.3,256.7 346.5,267.2 356.5,261.4" fill="none" stroke="#52bcf8" stroke-width="1.2" stroke-linejoin="round" opacity="0.95"/>
<polygon points="316.3,240.9 348.0,222.6 379.7,240.9 348.0,259.2" fill="#b4d0fa" opacity="0.28"/>
<polygon points="316.3,240.9 348.0,259.2 348.0,304.2 316.3,285.9" fill="#7cc0f4" opacity="0.08"/>
<circle cx="345.8" cy="240.0" r="40" fill="url(#g77)" opacity="1"/>
<rect x="332" y="223.3" width="27.6" height="32.6" rx="4.5" fill="#fff"/>
<rect x="340.3" y="221" width="11" height="5.6" rx="1.5" fill="#fff"/>
<path d="M340.5,227.3 V225.2 H351 V227.3" fill="none" stroke="#5b6af0" stroke-width="1"/>
<circle cx="345.8" cy="223.5" r="1" fill="#5b6af0"/>
<path d="M338.5,234.5 H352.5 M338.5,239.5 H352.5 M338.5,244.4 H352.5 M338.5,249.3 H352.5" stroke="#5b6af0" stroke-width="1.3"/>
<path d="M356,233 V250" stroke="#5b6af0" stroke-width="1.2"/>
<polygon points="221.8,342.6 253.5,324.3 253.5,279.3 221.8,297.6" fill="#9cc4f6" opacity="0.32"/>
<polygon points="285.2,342.6 253.5,324.3 253.5,279.3 285.2,297.6" fill="#a8ccf8" opacity="0.32"/>
<polygon points="221.8,342.6 253.5,324.3 285.2,342.6 253.5,360.9" fill="#2b8fd0" opacity="0.30"/>
<polygon points="221.8,297.6 253.5,315.9 253.5,360.9 221.8,342.6" fill="url(#g78)" opacity="0.42"/>
<polygon points="253.5,315.9 285.2,297.6 285.2,342.6 253.5,360.9" fill="url(#g78)" opacity="0.34"/>
<polygon points="226.7,313.2 252.0,327.8 252.0,355.4 226.7,340.8" fill="url(#g79)" />
<polygon points="252.0,327.8 277.3,313.2 277.3,340.8 252.0,355.4" fill="url(#g80)" />
<polygon points="226.7,313.2 252.0,327.8 277.3,313.2 277.3,340.8 252.0,355.4 226.7,340.8" fill="url(#g81)" />
<polygon points="226.7,313.2 252.0,298.6 277.3,313.2 252.0,327.8" fill="url(#g82)" />
<polygon points="226.7,313.2 252.0,327.8 252.0,325.6 229.7,312.8" fill="#7ad0f8" opacity="0.8"/>
<polygon points="233.8,312.7 252.0,302.2 270.2,312.7 252.0,323.2" fill="url(#g83)" opacity="0.95" stroke="#dbe8fe" stroke-width="2" stroke-linejoin="round"/>
<polyline points="233.8,313.4 252.0,323.9 262.0,318.1" fill="none" stroke="#52bcf8" stroke-width="1.2" stroke-linejoin="round" opacity="0.95"/>
<polygon points="221.8,297.6 253.5,279.3 285.2,297.6 253.5,315.9" fill="#b4d0fa" opacity="0.28"/>
<polygon points="221.8,297.6 253.5,315.9 253.5,360.9 221.8,342.6" fill="#7cc0f4" opacity="0.08"/>
<circle cx="252.0" cy="294.0" r="40" fill="url(#g84)" opacity="1"/>
<path d="M237.8,280 H266 Q268.9,280 268.9,282.9 V304.6 Q268.9,307.5 266,307.5 H237.8 Q234.9,307.5 234.9,304.6 V300.5 H237.6 V287.5 H234.9 V282.9 Q234.9,280 237.8,280Z" fill="#f8f4f5"/>
<path d="M256.6,295.4 L265.6,286.6" stroke="#5b6af0" stroke-width="3.8" stroke-linecap="butt"/>
<path d="M244,298.6 H264 M238.5,303 H259" stroke="#5b6af0" stroke-width="1"/>
<polygon points="153.5,383.7 185.2,365.4 185.2,320.4 153.5,338.7" fill="#9cc4f6" opacity="0.32"/>
<polygon points="216.9,383.7 185.2,365.4 185.2,320.4 216.9,338.7" fill="#a8ccf8" opacity="0.32"/>
<polygon points="153.5,383.7 185.2,365.4 216.9,383.7 185.2,402.0" fill="#2b8fd0" opacity="0.30"/>
<polygon points="153.5,338.7 185.2,357.0 185.2,402.0 153.5,383.7" fill="url(#g85)" opacity="0.42"/>
<polygon points="185.2,357.0 216.9,338.7 216.9,383.7 185.2,402.0" fill="url(#g85)" opacity="0.34"/>
<polygon points="158.4,354.3 183.7,368.9 183.7,396.5 158.4,381.9" fill="url(#g86)" />
<polygon points="183.7,368.9 209.0,354.3 209.0,381.9 183.7,396.5" fill="url(#g87)" />
<polygon points="158.4,354.3 183.7,368.9 209.0,354.3 209.0,381.9 183.7,396.5 158.4,381.9" fill="url(#g88)" />
<polygon points="158.4,354.3 183.7,339.7 209.0,354.3 183.7,368.9" fill="url(#g89)" />
<polygon points="158.4,354.3 183.7,368.9 183.7,366.7 161.4,353.9" fill="#7ad0f8" opacity="0.8"/>
<polygon points="165.5,353.8 183.7,343.3 201.9,353.8 183.7,364.3" fill="url(#g90)" opacity="0.95" stroke="#dbe8fe" stroke-width="2" stroke-linejoin="round"/>
<polyline points="165.5,354.5 183.7,365.0 193.7,359.2" fill="none" stroke="#52bcf8" stroke-width="1.2" stroke-linejoin="round" opacity="0.95"/>
<polygon points="153.5,338.7 185.2,320.4 216.9,338.7 185.2,357.0" fill="#b4d0fa" opacity="0.28"/>
<polygon points="153.5,338.7 185.2,357.0 185.2,402.0 153.5,383.7" fill="#7cc0f4" opacity="0.08"/>
<circle cx="184.5" cy="337.0" r="40" fill="url(#g91)" opacity="1"/>
<rect x="168.8" y="322.7" width="13.6" height="12.8" fill="#5b6af0" stroke="#fff" stroke-width="1.6"/>
<rect x="185.8" y="321.9" width="15.2" height="14.4" fill="#fff"/>
<rect x="168.0" y="338.8" width="15.2" height="14.4" fill="#fff"/>
<rect x="186.6" y="339.6" width="13.6" height="12.8" fill="#5b6af0" stroke="#fff" stroke-width="1.6"/>
<polygon points="87.8,427.3 119.5,409.0 119.5,364.0 87.8,382.3" fill="#9cc4f6" opacity="0.32"/>
<polygon points="151.2,427.3 119.5,409.0 119.5,364.0 151.2,382.3" fill="#a8ccf8" opacity="0.32"/>
<polygon points="87.8,427.3 119.5,409.0 151.2,427.3 119.5,445.6" fill="#2b8fd0" opacity="0.30"/>
<polygon points="87.8,382.3 119.5,400.6 119.5,445.6 87.8,427.3" fill="url(#g92)" opacity="0.42"/>
<polygon points="119.5,400.6 151.2,382.3 151.2,427.3 119.5,445.6" fill="url(#g92)" opacity="0.34"/>
<polygon points="92.7,397.9 118.0,412.5 118.0,440.1 92.7,425.5" fill="url(#g93)" />
<polygon points="118.0,412.5 143.3,397.9 143.3,425.5 118.0,440.1" fill="url(#g94)" />
<polygon points="92.7,397.9 118.0,412.5 143.3,397.9 143.3,425.5 118.0,440.1 92.7,425.5" fill="url(#g95)" />
<polygon points="92.7,397.9 118.0,383.3 143.3,397.9 118.0,412.5" fill="url(#g96)" />
<polygon points="92.7,397.9 118.0,412.5 118.0,410.3 95.7,397.5" fill="#7ad0f8" opacity="0.8"/>
<polygon points="99.8,397.4 118.0,386.9 136.2,397.4 118.0,407.9" fill="url(#g97)" opacity="0.95" stroke="#dbe8fe" stroke-width="2" stroke-linejoin="round"/>
<polyline points="99.8,398.1 118.0,408.6 128.0,402.8" fill="none" stroke="#52bcf8" stroke-width="1.2" stroke-linejoin="round" opacity="0.95"/>
<polygon points="87.8,382.3 119.5,364.0 151.2,382.3 119.5,400.6" fill="#b4d0fa" opacity="0.28"/>
<polygon points="87.8,382.3 119.5,400.6 119.5,445.6 87.8,427.3" fill="#7cc0f4" opacity="0.08"/>
<circle cx="115.6" cy="378.0" r="40" fill="url(#g98)" opacity="1"/>
<path d="M102.4,378.0 L115.5,365.0 V391.1 L128.9,378.0" stroke="#fff" stroke-width="1.5" fill="none"/>
<circle cx="102.4" cy="365.0" r="4.4" fill="#fff"/>
<circle cx="102.4" cy="378.0" r="4.4" fill="#fff"/>
<circle cx="102.4" cy="391.1" r="4.4" fill="#fff"/>
<circle cx="115.5" cy="365.0" r="4.4" fill="#fff"/>
<circle cx="115.5" cy="378.0" r="4.4" fill="#fff"/>
<circle cx="115.5" cy="391.1" r="4.4" fill="#fff"/>
<circle cx="128.9" cy="365.0" r="4.4" fill="#fff"/>
<circle cx="128.9" cy="378.0" r="4.4" fill="#fff"/>
<circle cx="128.9" cy="391.1" r="4.4" fill="#fff"/>
<polygon points="74.4,422.4 229.7,512.0 229.7,521.8 74.4,432.2" fill="url(#g99)" />
<circle cx="229.7" cy="516.9" r="4.9" fill="#6a206c"/>
<ellipse cx="79.6" cy="428.5" rx="4.5" ry="4.8" fill="url(#g100)"/>
<ellipse cx="88.6" cy="433.7" rx="4.5" ry="4.8" fill="url(#g101)"/>
<ellipse cx="97.6" cy="438.9" rx="4.5" ry="4.8" fill="url(#g102)"/>
<ellipse cx="138.4" cy="462.4" rx="4.5" ry="4.8" fill="url(#g103)"/>
<ellipse cx="147.4" cy="467.6" rx="4.5" ry="4.8" fill="url(#g104)"/>
<ellipse cx="156.4" cy="472.8" rx="4.5" ry="4.8" fill="url(#g105)"/>
<ellipse cx="206.3" cy="501.6" rx="4.5" ry="4.8" fill="url(#g106)"/>
<ellipse cx="215.3" cy="506.8" rx="4.5" ry="4.8" fill="url(#g107)"/>
<ellipse cx="224.3" cy="512.0" rx="4.5" ry="4.8" fill="url(#g108)"/>
<polygon points="74.4,420.9 229.7,510.5 229.7,512.3 74.4,422.7" fill="#4fa6e4" />
<path d="M229.7,511.3 A5.6,5.6 0 0 1 229.7,522.4" stroke="#4f7ee4" stroke-width="1.4" fill="none"/>
<polygon points="74.4,431.8 229.7,521.4 229.7,523.4 74.4,433.8" fill="#45a9dc" />
<polygon points="74.4,433.6 229.7,523.2 229.7,525.4 74.4,435.8" fill="#17878f" />
<polygon points="78.4,437.7 229.7,525.0 229.7,535.4 78.4,448.1" fill="url(#g109)" />
<polygon points="229.2,510.3 274.7,484.3 276.0,488.5 230.5,514.5" fill="#49bfde" />
<polygon points="230.5,514.0 385.0,603.2 430.0,577.2 275.5,488.0" fill="url(#g110)" />
<polygon points="230.5,515.2 385.0,604.4 385.0,614.2 230.5,525.0" fill="url(#g111)" />
<circle cx="385.0" cy="609.3" r="4.9" fill="#6a206c"/>
<ellipse cx="235.7" cy="521.3" rx="4.5" ry="4.8" fill="url(#g112)"/>
<ellipse cx="244.7" cy="526.5" rx="4.5" ry="4.8" fill="url(#g113)"/>
<ellipse cx="253.7" cy="531.7" rx="4.5" ry="4.8" fill="url(#g114)"/>
<ellipse cx="294.7" cy="555.4" rx="4.5" ry="4.8" fill="url(#g115)"/>
<ellipse cx="303.7" cy="560.6" rx="4.5" ry="4.8" fill="url(#g116)"/>
<ellipse cx="312.7" cy="565.8" rx="4.5" ry="4.8" fill="url(#g117)"/>
<ellipse cx="362.7" cy="594.6" rx="4.5" ry="4.8" fill="url(#g118)"/>
<ellipse cx="371.7" cy="599.8" rx="4.5" ry="4.8" fill="url(#g119)"/>
<ellipse cx="380.7" cy="605.0" rx="4.5" ry="4.8" fill="url(#g120)"/>
<polygon points="230.5,513.7 385.0,602.9 385.0,604.7 230.5,515.5" fill="#4fa6e4" />
<path d="M385.0,603.7 A5.6,5.6 0 0 1 385.0,614.8" stroke="#4f7ee4" stroke-width="1.4" fill="none"/>
<polygon points="230.5,524.6 385.0,613.8 385.0,615.8 230.5,526.6" fill="#45a9dc" />
<polygon points="230.5,526.4 385.0,615.6 385.0,617.8 230.5,528.6" fill="#17878f" />
<polygon points="234.5,530.5 385.0,617.4 385.0,627.8 234.5,540.9" fill="url(#g121)" />
<polygon points="384.5,602.7 430.0,576.7 431.5,580.7 386.0,606.7" fill="#49bfde" />
<polygon points="386.0,606.2 537.5,692.0 578.6,668.2 431.0,580.2" fill="url(#g122)" />
<path d="M530,687.5 L537.5,692 L578,668.5 Q584.5,670.5 584,677 L584,681 Q583.5,685 579,687.3 L546,706 Q541,707.5 541.5,703 L543,699 Z" fill="url(#g123)"/>
<path d="M541,696 L584,673 L584,681 Q583.5,685 579,687.3 L546,706 Q541,707.5 541.5,703 Z" fill="url(#g124)"/>
<path d="M505,673 L548,648.5 L578,668.5 Q584.5,670.5 584,677 L584,681 Q583.5,685 579,687.3 L546,706 Q541,707.5 541.5,703 L543,699 L537.5,692 Z" fill="url(#g125)"/>
<polygon points="533.2,705.9 544.0,707.0 577.6,687.6 577.6,690.0 533.2,715.0" fill="url(#g126)" />
<polygon points="386.0,607.4 537.0,693.8 537.0,703.6 386.0,617.2" fill="url(#g127)" />
<circle cx="537.0" cy="698.7" r="4.9" fill="#6a206c"/>
<ellipse cx="391.4" cy="613.6" rx="4.5" ry="4.8" fill="url(#g128)"/>
<ellipse cx="400.4" cy="618.7" rx="4.5" ry="4.8" fill="url(#g129)"/>
<ellipse cx="409.4" cy="623.9" rx="4.5" ry="4.8" fill="url(#g130)"/>
<ellipse cx="450.2" cy="647.2" rx="4.5" ry="4.8" fill="url(#g131)"/>
<ellipse cx="459.2" cy="652.4" rx="4.5" ry="4.8" fill="url(#g132)"/>
<ellipse cx="468.2" cy="657.5" rx="4.5" ry="4.8" fill="url(#g133)"/>
<ellipse cx="518.0" cy="686.0" rx="4.5" ry="4.8" fill="url(#g134)"/>
<ellipse cx="527.0" cy="691.2" rx="4.5" ry="4.8" fill="url(#g135)"/>
<ellipse cx="536.0" cy="696.3" rx="4.5" ry="4.8" fill="url(#g136)"/>
<polygon points="386.0,605.9 537.0,692.3 537.0,694.1 386.0,607.7" fill="#4fa6e4" />
<path d="M537.0,693.1 A5.6,5.6 0 0 1 537.0,704.2" stroke="#4f7ee4" stroke-width="1.4" fill="none"/>
<polygon points="386.0,616.8 537.0,703.2 537.0,705.2 386.0,618.8" fill="#45a9dc" />
<polygon points="386.0,618.6 537.0,705.0 537.0,707.2 386.0,620.8" fill="#17878f" />
<polygon points="390.0,622.7 533.2,704.6 533.2,715.0 390.0,633.1" fill="url(#g137)" />
<polygon points="174.8,475.2 206.5,456.9 206.5,411.9 174.8,430.2" fill="#9cc4f6" opacity="0.32"/>
<polygon points="238.2,475.2 206.5,456.9 206.5,411.9 238.2,430.2" fill="#a8ccf8" opacity="0.32"/>
<polygon points="174.8,475.2 206.5,456.9 238.2,475.2 206.5,493.5" fill="#2b8fd0" opacity="0.30"/>
<polygon points="174.8,430.2 206.5,448.5 206.5,493.5 174.8,475.2" fill="url(#g138)" opacity="0.42"/>
<polygon points="206.5,448.5 238.2,430.2 238.2,475.2 206.5,493.5" fill="url(#g138)" opacity="0.34"/>
<polygon points="179.7,445.8 205.0,460.4 205.0,488.0 179.7,473.4" fill="url(#g139)" />
<polygon points="205.0,460.4 230.3,445.8 230.3,473.4 205.0,488.0" fill="url(#g140)" />
<polygon points="179.7,445.8 205.0,460.4 230.3,445.8 230.3,473.4 205.0,488.0 179.7,473.4" fill="url(#g141)" />
<polygon points="179.7,445.8 205.0,431.2 230.3,445.8 205.0,460.4" fill="url(#g142)" />
<polygon points="179.7,445.8 205.0,460.4 205.0,458.2 182.7,445.4" fill="#7ad0f8" opacity="0.8"/>
<polygon points="186.8,445.3 205.0,434.8 223.2,445.3 205.0,455.8" fill="url(#g143)" opacity="0.95" stroke="#dbe8fe" stroke-width="2" stroke-linejoin="round"/>
<polyline points="186.8,446.0 205.0,456.5 215.0,450.7" fill="none" stroke="#52bcf8" stroke-width="1.2" stroke-linejoin="round" opacity="0.95"/>
<polygon points="174.8,430.2 206.5,411.9 238.2,430.2 206.5,448.5" fill="#b4d0fa" opacity="0.28"/>
<polygon points="174.8,430.2 206.5,448.5 206.5,493.5 174.8,475.2" fill="#7cc0f4" opacity="0.08"/>
<circle cx="210.0" cy="434.0" r="36" fill="url(#g144)" opacity="0.5"/>
<path d="M185.0,414.8 Q196.0,411.0 206.9,424.0" stroke="#fff" stroke-width="1.1" fill="none"/>
<path d="M231.8,414.8 Q221.0,411.0 209.9,424.0" stroke="#fff" stroke-width="1.1" fill="none"/>
<path d="M188.0,412.5 Q196.0,408.7 206.1,422.8" stroke="#fff" stroke-width="1.1" fill="none"/>
<path d="M228.8,412.5 Q221.0,408.7 210.7,422.8" stroke="#fff" stroke-width="1.1" fill="none"/>
<path d="M191.0,410.6 Q196.0,406.8 205.3,421.6" stroke="#fff" stroke-width="1.1" fill="none"/>
<path d="M225.8,410.6 Q221.0,406.8 211.5,421.6" stroke="#fff" stroke-width="1.1" fill="none"/>
<path d="M181.2,416.8 Q197,415.5 207.8,426 L207.8,444 Q198,437 187.5,437.6Z" fill="#fff"/>
<path d="M235.6,416.8 Q220,415.5 209.0,426 L209.0,444 Q219,437 229.3,437.6Z" fill="#fff"/>
<polygon points="257.0,528.8 288.7,510.5 288.7,465.5 257.0,483.8" fill="#9cc4f6" opacity="0.32"/>
<polygon points="320.4,528.8 288.7,510.5 288.7,465.5 320.4,483.8" fill="#a8ccf8" opacity="0.32"/>
<polygon points="257.0,528.8 288.7,510.5 320.4,528.8 288.7,547.1" fill="#2b8fd0" opacity="0.30"/>
<polygon points="257.0,483.8 288.7,502.1 288.7,547.1 257.0,528.8" fill="url(#g145)" opacity="0.42"/>
<polygon points="288.7,502.1 320.4,483.8 320.4,528.8 288.7,547.1" fill="url(#g145)" opacity="0.34"/>
<polygon points="261.9,499.4 287.2,514.0 287.2,541.6 261.9,527.0" fill="url(#g146)" />
<polygon points="287.2,514.0 312.5,499.4 312.5,527.0 287.2,541.6" fill="url(#g147)" />
<polygon points="261.9,499.4 287.2,514.0 312.5,499.4 312.5,527.0 287.2,541.6 261.9,527.0" fill="url(#g148)" />
<polygon points="261.9,499.4 287.2,484.8 312.5,499.4 287.2,514.0" fill="url(#g149)" />
<polygon points="261.9,499.4 287.2,514.0 287.2,511.8 264.9,499.0" fill="#7ad0f8" opacity="0.8"/>
<polygon points="269.0,498.9 287.2,488.4 305.4,498.9 287.2,509.4" fill="url(#g150)" opacity="0.95" stroke="#dbe8fe" stroke-width="2" stroke-linejoin="round"/>
<polyline points="269.0,499.6 287.2,510.1 297.2,504.3" fill="none" stroke="#52bcf8" stroke-width="1.2" stroke-linejoin="round" opacity="0.95"/>
<polygon points="257.0,483.8 288.7,465.5 320.4,483.8 288.7,502.1" fill="#b4d0fa" opacity="0.28"/>
<polygon points="257.0,483.8 288.7,502.1 288.7,547.1 257.0,528.8" fill="#7cc0f4" opacity="0.08"/>
<circle cx="290.0" cy="478.0" r="40" fill="url(#g151)" opacity="1"/>
<path d="M297,494.2 H280.2 Q276.4,494.2 276.4,490.4 V466.4 Q276.4,462.6 280.2,462.6 H300.6 Q304.4,462.6 304.4,466.4 V479" fill="#5b6af0" stroke="#fff" stroke-width="2.1"/>
<path d="M280.8,470 H300.5 M280.8,476 H300.5 M280.8,482 H292.5 M280.8,488 H289" stroke="#fff" stroke-width="1.9"/>
<polygon points="302.0,478.7 304.5,485.4 311.7,485.7 306.1,490.2 308.0,497.2 302.0,493.2 296.0,497.2 297.9,490.2 292.3,485.7 299.5,485.4" fill="#fff" />
<polygon points="335.5,571.6 367.2,553.3 367.2,508.3 335.5,526.6" fill="#9cc4f6" opacity="0.32"/>
<polygon points="398.9,571.6 367.2,553.3 367.2,508.3 398.9,526.6" fill="#a8ccf8" opacity="0.32"/>
<polygon points="335.5,571.6 367.2,553.3 398.9,571.6 367.2,589.9" fill="#2b8fd0" opacity="0.30"/>
<polygon points="335.5,526.6 367.2,544.9 367.2,589.9 335.5,571.6" fill="url(#g152)" opacity="0.42"/>
<polygon points="367.2,544.9 398.9,526.6 398.9,571.6 367.2,589.9" fill="url(#g152)" opacity="0.34"/>
<polygon points="340.4,542.2 365.7,556.8 365.7,584.4 340.4,569.8" fill="url(#g153)" />
<polygon points="365.7,556.8 391.0,542.2 391.0,569.8 365.7,584.4" fill="url(#g154)" />
<polygon points="340.4,542.2 365.7,556.8 391.0,542.2 391.0,569.8 365.7,584.4 340.4,569.8" fill="url(#g155)" />
<polygon points="340.4,542.2 365.7,527.6 391.0,542.2 365.7,556.8" fill="url(#g156)" />
<polygon points="340.4,542.2 365.7,556.8 365.7,554.6 343.4,541.8" fill="#7ad0f8" opacity="0.8"/>
<polygon points="347.5,541.7 365.7,531.2 383.9,541.7 365.7,552.2" fill="url(#g157)" opacity="0.95" stroke="#dbe8fe" stroke-width="2" stroke-linejoin="round"/>
<polyline points="347.5,542.4 365.7,552.9 375.7,547.1" fill="none" stroke="#52bcf8" stroke-width="1.2" stroke-linejoin="round" opacity="0.95"/>
<polygon points="335.5,526.6 367.2,508.3 398.9,526.6 367.2,544.9" fill="#b4d0fa" opacity="0.28"/>
<polygon points="335.5,526.6 367.2,544.9 367.2,589.9 335.5,571.6" fill="#7cc0f4" opacity="0.08"/>
<circle cx="366.5" cy="523.5" r="40" fill="url(#g158)" opacity="1"/>
<rect x="349.8" y="507.8" width="15.5" height="20.5" fill="#fff"/>
<rect x="349.8" y="530.3" width="15.5" height="8.7" fill="#fff"/>
<rect x="367.6" y="507.8" width="15.7" height="9.1" fill="#fff"/>
<rect x="367.6" y="519.1" width="15.7" height="19.9" fill="#fff"/>
<polygon points="416.0,621.0 447.7,602.7 447.7,557.7 416.0,576.0" fill="#9cc4f6" opacity="0.32"/>
<polygon points="479.4,621.0 447.7,602.7 447.7,557.7 479.4,576.0" fill="#a8ccf8" opacity="0.32"/>
<polygon points="416.0,621.0 447.7,602.7 479.4,621.0 447.7,639.3" fill="#2b8fd0" opacity="0.30"/>
<polygon points="416.0,576.0 447.7,594.3 447.7,639.3 416.0,621.0" fill="url(#g159)" opacity="0.42"/>
<polygon points="447.7,594.3 479.4,576.0 479.4,621.0 447.7,639.3" fill="url(#g159)" opacity="0.34"/>
<polygon points="420.9,591.6 446.2,606.2 446.2,633.8 420.9,619.2" fill="url(#g160)" />
<polygon points="446.2,606.2 471.5,591.6 471.5,619.2 446.2,633.8" fill="url(#g161)" />
<polygon points="420.9,591.6 446.2,606.2 471.5,591.6 471.5,619.2 446.2,633.8 420.9,619.2" fill="url(#g162)" />
<polygon points="420.9,591.6 446.2,577.0 471.5,591.6 446.2,606.2" fill="url(#g163)" />
<polygon points="420.9,591.6 446.2,606.2 446.2,604.0 423.9,591.2" fill="#7ad0f8" opacity="0.8"/>
<polygon points="428.0,591.1 446.2,580.6 464.4,591.1 446.2,601.6" fill="url(#g164)" opacity="0.95" stroke="#dbe8fe" stroke-width="2" stroke-linejoin="round"/>
<polyline points="428.0,591.8 446.2,602.3 456.2,596.5" fill="none" stroke="#52bcf8" stroke-width="1.2" stroke-linejoin="round" opacity="0.95"/>
<polygon points="416.0,576.0 447.7,557.7 479.4,576.0 447.7,594.3" fill="#b4d0fa" opacity="0.28"/>
<polygon points="416.0,576.0 447.7,594.3 447.7,639.3 416.0,621.0" fill="#7cc0f4" opacity="0.08"/>
<circle cx="448.0" cy="569.0" r="40" fill="url(#g165)" opacity="1"/>
<rect x="432" y="554.8" width="32.2" height="28.6" rx="2.6" fill="#5b6af0" stroke="#fff" stroke-width="1.7"/>
<path d="M439.5,550.6 V558.4" stroke="#fff" stroke-width="1.7"/>
<path d="M448.2,550.6 V558.4" stroke="#fff" stroke-width="1.7"/>
<path d="M456.9,550.6 V558.4" stroke="#fff" stroke-width="1.7"/>
<rect x="438.3" y="563.2" width="4.6" height="3" fill="#fff"/>
<rect x="438.3" y="568.7" width="4.6" height="3" fill="#fff"/>
<rect x="438.3" y="574.2" width="4.6" height="3" fill="#fff"/>
<rect x="445.7" y="563.2" width="4.6" height="3" fill="#fff"/>
<rect x="445.7" y="568.7" width="4.6" height="3" fill="#fff"/>
<rect x="445.7" y="574.2" width="4.6" height="3" fill="#fff"/>
<rect x="453.1" y="563.2" width="4.6" height="3" fill="#fff"/>
<rect x="453.1" y="568.7" width="4.6" height="3" fill="#fff"/>
<rect x="453.1" y="574.2" width="4.6" height="3" fill="#fff"/>
<polygon points="490.5,661.6 522.2,643.3 522.2,598.3 490.5,616.6" fill="#9cc4f6" opacity="0.32"/>
<polygon points="553.9,661.6 522.2,643.3 522.2,598.3 553.9,616.6" fill="#a8ccf8" opacity="0.32"/>
<polygon points="490.5,661.6 522.2,643.3 553.9,661.6 522.2,679.9" fill="#2b8fd0" opacity="0.30"/>
<polygon points="490.5,616.6 522.2,634.9 522.2,679.9 490.5,661.6" fill="url(#g166)" opacity="0.42"/>
<polygon points="522.2,634.9 553.9,616.6 553.9,661.6 522.2,679.9" fill="url(#g166)" opacity="0.34"/>
<polygon points="495.4,632.2 520.7,646.8 520.7,674.4 495.4,659.8" fill="url(#g167)" />
<polygon points="520.7,646.8 546.0,632.2 546.0,659.8 520.7,674.4" fill="url(#g168)" />
<polygon points="495.4,632.2 520.7,646.8 546.0,632.2 546.0,659.8 520.7,674.4 495.4,659.8" fill="url(#g169)" />
<polygon points="495.4,632.2 520.7,617.6 546.0,632.2 520.7,646.8" fill="url(#g170)" />
<polygon points="495.4,632.2 520.7,646.8 520.7,644.6 498.4,631.8" fill="#7ad0f8" opacity="0.8"/>
<polygon points="502.5,631.7 520.7,621.2 538.9,631.7 520.7,642.2" fill="url(#g171)" opacity="0.95" stroke="#dbe8fe" stroke-width="2" stroke-linejoin="round"/>
<polyline points="502.5,632.4 520.7,642.9 530.7,637.1" fill="none" stroke="#52bcf8" stroke-width="1.2" stroke-linejoin="round" opacity="0.95"/>
<polygon points="490.5,616.6 522.2,598.3 553.9,616.6 522.2,634.9" fill="#b4d0fa" opacity="0.28"/>
<polygon points="490.5,616.6 522.2,634.9 522.2,679.9 490.5,661.6" fill="#7cc0f4" opacity="0.08"/>
<circle cx="521.0" cy="612.0" r="40" fill="url(#g172)" opacity="1"/>
<path d="M516.5,591.5 H538.8 V628" fill="none" stroke="#fff" stroke-width="1.1"/>
<path d="M514,594 H536.6 V628.6" fill="none" stroke="#fff" stroke-width="1.1"/>
<rect x="505.8" y="596.8" width="28.4" height="32.6" fill="#fff"/>
<path d="M512,602.4 H528.6 M512,607.2 H528.6 M512,612 H528.6 M512,616.8 H528.6 M512,621.6 H528.6" stroke="#5b6af0" stroke-width="1.4"/>
<polygon points="533.0,623.5 533.0,628.3 528.2,628.3" fill="#5b6af0" />
<path d="M107,136 Q105,100 118,88 Q130,80 146,80 Q160,80 168.5,83.5 L168.5,119 Q158,114.5 146,114.7 Q132,116 124,126 Q118,137.5 107,136Z" fill="#d9f5fd" opacity="0.98"/>
<path d="M126.5,93 V112 M145.3,88 V109" stroke="#eab0cc" stroke-width="0.7"/>
<polygon points="90.2,131.0 108.6,131.5 107.6,181.0 103.2,181.0 101.0,140.0 98.5,140.0 95.6,180.5 91.6,180.5" fill="#3f47b9" />
<path d="M91.5,180.5 H96 L99.5,183 Q96,184.5 91.5,183Z" fill="#8fbdf2"/><path d="M103,181 H107.6 L110.5,184 Q106,185.5 102.6,183.5Z" fill="#8fbdf2"/>
<path d="M91,99.5 Q98,97 105.5,99.8 Q108.5,101 109.3,106 L113,118.5 L121.5,114.8 L123,118.2 L111.5,124 Q109.8,124.3 109.2,122.5 L108.8,133 H89.8 Q87,115 87.3,105 Q87.5,101 91,99.5Z" fill="#90bdf6"/>
<circle cx="123.2" cy="116.6" r="2" fill="#f3a9b8"/>
<path d="M97.5,92 Q100,96 103.2,93.5 L103.6,88 L100.5,86Z" fill="#f6b3bf"/>
<rect x="96.8" y="93" width="4.6" height="6" fill="#f6b3bf"/>
<path d="M93.4,89.5 Q92.3,84.5 96.5,83 Q99.5,80.3 102.6,82.5 Q103.6,84.5 102,86.2 Q100.3,87 100.3,90 Q100,94 97.5,94 Q94.5,93.5 93.4,89.5Z" fill="#1f2a6b"/>
<ellipse cx="601.5" cy="785.6" rx="88.0" ry="50.6" fill="#68b8f0"/>
<ellipse cx="601.5" cy="785.1" rx="82.5" ry="47.1" fill="#3f9fe8"/>
<ellipse cx="601.5" cy="784.6" rx="76.0" ry="42.6" fill="url(#g173)"/>
<ellipse cx="601.5" cy="784.6" rx="76.0" ry="42.6" fill="url(#g174)"/>
<polygon points="538.3,776.3 547.5,780.9 547.5,784.6 538.3,780.0" fill="#2a86e6" />
<polygon points="556.8,776.3 547.5,780.9 547.5,784.6 556.8,780.0" fill="#1f62d6" />
<polygon points="538.3,776.3 547.5,771.7 556.8,776.3 547.5,780.9" fill="#35e0c4" />
<polygon points="538.3,771.2 547.5,775.9 547.5,779.5 538.3,774.9" fill="#2a86e6" />
<polygon points="556.8,771.2 547.5,775.9 547.5,779.5 556.8,774.9" fill="#1f62d6" />
<polygon points="538.3,771.2 547.5,766.6 556.8,771.2 547.5,775.9" fill="#35e0c4" />
<polygon points="538.3,766.2 547.5,770.8 547.5,774.5 538.3,769.9" fill="#2a86e6" />
<polygon points="556.8,766.2 547.5,770.8 547.5,774.5 556.8,769.9" fill="#1f62d6" />
<polygon points="538.3,766.2 547.5,761.5 556.8,766.2 547.5,770.8" fill="#5ff2d8" />
<polygon points="542.9,765.2 547.5,762.9 552.2,765.2 547.5,767.8" fill="#f4fffc" />
<circle cx="547.5" cy="765.2" r="9" fill="url(#g175)"/>
<polygon points="646.1,774.5 655.3,779.1 655.3,782.8 646.1,778.2" fill="#2a86e6" />
<polygon points="664.5,774.5 655.3,779.1 655.3,782.8 664.5,778.2" fill="#1f62d6" />
<polygon points="646.1,774.5 655.3,769.9 664.5,774.5 655.3,779.1" fill="#35e0c4" />
<polygon points="646.1,769.4 655.3,774.0 655.3,777.7 646.1,773.1" fill="#2a86e6" />
<polygon points="664.5,769.4 655.3,774.0 655.3,777.7 664.5,773.1" fill="#1f62d6" />
<polygon points="646.1,769.4 655.3,764.8 664.5,769.4 655.3,774.0" fill="#35e0c4" />
<polygon points="646.1,764.3 655.3,768.9 655.3,772.6 646.1,768.0" fill="#2a86e6" />
<polygon points="664.5,764.3 655.3,768.9 655.3,772.6 664.5,768.0" fill="#1f62d6" />
<polygon points="646.1,764.3 655.3,759.7 664.5,764.3 655.3,768.9" fill="#5ff2d8" />
<polygon points="650.7,763.4 655.3,761.1 659.9,763.4 655.3,765.9" fill="#f4fffc" />
<circle cx="655.3" cy="763.3" r="9" fill="url(#g176)"/>
<polygon points="619.5,743.5 632.7,745.9 632.2,756.9 626.5,754.6 625.5,750.5 624.2,753.7 619.5,751.9" fill="#0f3b52" />
<path d="M617.7,715.8 Q622.3,711.2 629.7,714.0 L640.3,729.7 L641.0,732.5 L634.3,738.9 L633.4,745.9 L618.6,744.5 L615.9,739.6 Z" fill="#0b2c3d"/>
<polygon points="615.9,739.6 618.6,739.6 619.1,745.4 616.3,744.9" fill="#f0b9a5" />
<polygon points="624.6,737.3 630.6,736.2 631.1,738.9 625.5,740.3" fill="#f0b9a5" />
<ellipse cx="623.2" cy="707.1" rx="4.6" ry="6.2" fill="#f3c0ae"/>
<polygon points="621.4,711.2 625.1,711.2 625.5,714.9 621.4,714.5" fill="#f0b9a5" />
<path d="M618.6,703.4 Q620.5,699.7 626.5,700.2 Q631.1,701.5 629.7,707.5 L627.9,708.9 Q626.9,703.8 621.4,704.3 Z" fill="#7a4a35"/>
<polygon points="561.8,754.6 579.6,764.3 579.6,790.6 561.8,780.5" fill="#2b74d4" />
<polygon points="579.6,764.3 597.4,773.1 597.4,781.4 579.6,790.6" fill="#0b4ba6" />
<polygon points="561.8,754.6 586.5,742.2 640.3,763.4 610.8,780.5" fill="url(#g177)" />
<polygon points="610.8,780.5 640.3,763.4 640.3,768.0 610.8,784.2" fill="#1f58cc" />
<polygon points="609.6,781.9 617.2,785.5 617.2,810.5 609.6,806.8" fill="#2a6fd6" />
<polygon points="565.1,738.9 573.8,743.5 573.8,754.6 565.1,749.5" fill="#2b74d4" />
<polygon points="573.8,743.5 582.6,739.4 582.6,750.5 573.8,754.6" fill="#1a4fb8" />
<polygon points="566.0,737.1 574.3,733.8 576.6,735.2 576.6,743.5 573.8,746.8 566.9,742.2" fill="#f0b040" />
<polygon points="572.9,734.3 578.5,732.9 582.2,736.2 582.2,743.5 577.5,744.9 577.1,736.2" fill="#ecc9a0" />
<polygon points="575.2,733.8 579.4,732.9 582.2,735.2 578.5,736.2" fill="#a8c0c8" />
<polygon points="585.9,726.9 607.3,737.3 607.3,758.5 585.9,747.7" fill="#2f84ea" />
<polygon points="607.3,737.3 608.9,736.8 608.9,757.4 607.3,758.5" fill="#e6f2ff" />
<polygon points="591.9,741.9 597.4,744.9 598.3,759.2 592.8,757.4" fill="#2369d6" />
<polygon points="585.4,756.5 596.9,762.0 603.9,759.2 592.8,754.2" fill="#2a78e2" />
<polygon points="611.9,758.3 618.9,755.5 626.0,760.2 619.5,763.9" fill="#dcecff" />
<polygon points="602.0,767.1 611.2,762.0 622.8,768.5 614.0,774.5" fill="#1fb0ea" />
<polygon points="602.0,767.1 614.0,774.5 614.0,775.9 602.0,768.5" fill="#e8e0b0" />
<polygon points="614.0,774.5 622.8,768.5 622.8,769.9 614.0,775.9" fill="#c8c8a0" />
<polygon points="617.2,791.5 635.0,780.5 643.5,784.2 625.8,795.7" fill="#2e7ce0" />
<polygon points="617.2,791.5 625.8,795.7 625.8,814.6 617.2,810.0" fill="#2a66cc" />
<polygon points="625.8,795.7 643.5,784.2 643.5,805.4 625.8,814.6" fill="#cfe6ff" />
<ellipse cx="632.5" cy="801.2" rx="1.7" ry="4.2" fill="#2d63d0"/><ellipse cx="638.5" cy="796.6" rx="1.7" ry="4.2" fill="#2d63d0"/>
<polygon points="618.6,794.3 624.2,797.1 624.2,798.5 618.6,795.7" fill="#dfeeff" />
<text x="288.7" y="67.6" class="lb"><tspan fill="#55308a">01</tspan><tspan class="cj">信息孵化</tspan></text>
<text x="360.7" y="120.7" class="lb"><tspan fill="#55308a">02</tspan><tspan class="cj">经典技术孵化</tspan></text>
<text x="474.5" y="204.7" class="lb"><tspan fill="#55308a">03</tspan><tspan class="cj">一流技术孵化</tspan></text>
<text x="234.0" y="248.7" class="lb"><tspan fill="#55308a">04</tspan><tspan class="cj">项目服务</tspan></text>
<text x="141.0" y="304.7" class="lb"><tspan fill="#55308a">05</tspan><tspan class="cj">研发立项</tspan></text>
<text x="81.0" y="346.7" class="lb"><tspan fill="#55308a">06</tspan><tspan class="cj">编排室</tspan></text>
<text x="7.0" y="418.7" class="lb"><tspan fill="#55308a">07</tspan><tspan class="cj">监测站</tspan></text>
<text x="264.0" y="429.7" class="lb"><tspan fill="#55308a">08</tspan><tspan class="cj">课程实验室</tspan></text>
<text x="331.0" y="475.7" class="lb"><tspan fill="#55308a">09</tspan><tspan class="cj">优化中心</tspan></text>
<text x="403.0" y="514.7" class="lb"><tspan fill="#55308a">10</tspan><tspan class="cj">终极编排</tspan></text>
<text x="493.0" y="559.7" class="lb"><tspan fill="#55308a">11</tspan><tspan class="cj">课程发布</tspan></text>
<text x="567.0" y="609.7" class="lb"><tspan fill="#55308a">12</tspan><tspan class="cj">档案室</tspan></text>
<g transform="translate(640.6,668.2) rotate(31.5)"><rect x="-43" y="-11.5" width="86" height="23" rx="11" fill="#3c50e2" filter="url(#tb)"/></g>
<g transform="matrix(0.93,0.575,0,1,640.6,668.2)"><text x="0" y="5.8" text-anchor="middle" class="ttl">课程升级</text></g>
<rect width="689" height="2.2" fill="#ffffff"/><rect y="2.2" width="689" height="0.6" fill="#e6eaee"/>
</svg>
</body></html>
